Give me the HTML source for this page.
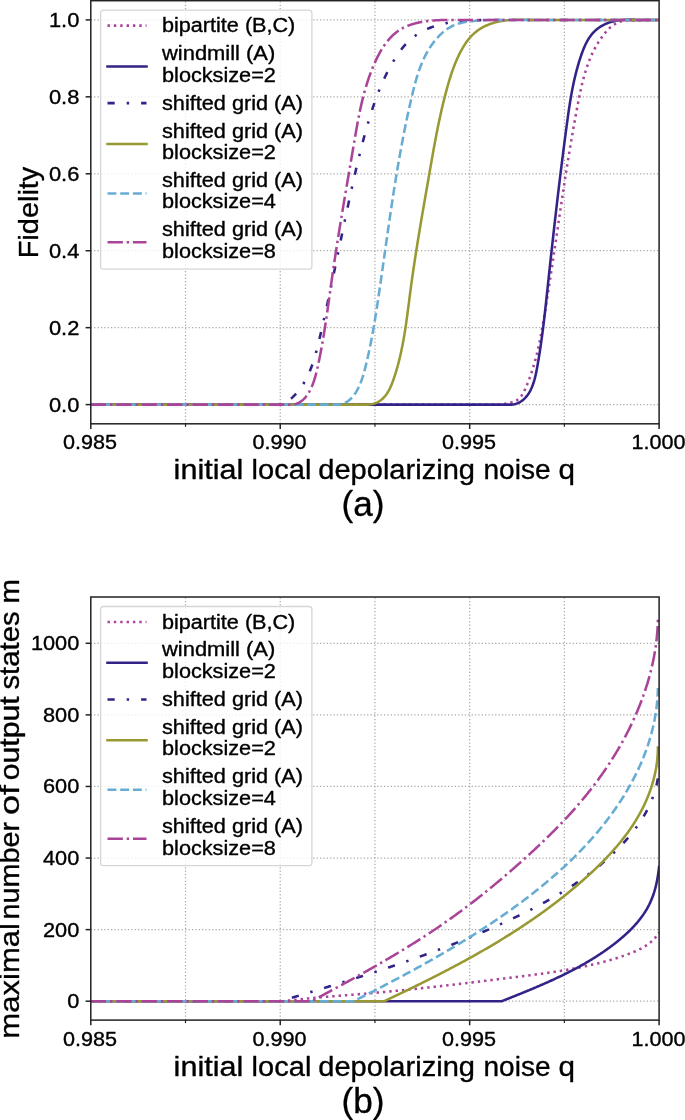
<!DOCTYPE html>
<html><head><meta charset="utf-8"><style>
html,body{margin:0;padding:0;background:#fff;width:685px;height:1120px;overflow:hidden}
svg{display:block;font-family:"Liberation Sans",sans-serif;will-change:transform}
text{stroke:#000;stroke-width:0.35px;stroke-linejoin:round}
</style></head><body>
<svg width="685" height="1120" viewBox="0 0 685 1120" font-family="Liberation Sans, sans-serif" fill="#000" stroke-width="0">
<defs><clipPath id="ca"><rect x="90.80" y="0.70" width="568.30" height="423.10"/></clipPath><clipPath id="cb"><rect x="90.80" y="597.00" width="568.30" height="423.10"/></clipPath></defs>
<rect width="685" height="1120" fill="#fff"/>
<line x1="90.80" y1="404.60" x2="659.10" y2="404.60" stroke="#a8a8a8" stroke-width="1.25" stroke-dasharray="1.25 2.12"/>
<line x1="90.80" y1="327.66" x2="659.10" y2="327.66" stroke="#a8a8a8" stroke-width="1.25" stroke-dasharray="1.25 2.12"/>
<line x1="90.80" y1="250.72" x2="659.10" y2="250.72" stroke="#a8a8a8" stroke-width="1.25" stroke-dasharray="1.25 2.12"/>
<line x1="90.80" y1="173.78" x2="659.10" y2="173.78" stroke="#a8a8a8" stroke-width="1.25" stroke-dasharray="1.25 2.12"/>
<line x1="90.80" y1="96.84" x2="659.10" y2="96.84" stroke="#a8a8a8" stroke-width="1.25" stroke-dasharray="1.25 2.12"/>
<line x1="90.80" y1="19.90" x2="659.10" y2="19.90" stroke="#a8a8a8" stroke-width="1.25" stroke-dasharray="1.25 2.12"/>
<line x1="185.52" y1="423.80" x2="185.52" y2="0.70" stroke="#a8a8a8" stroke-width="1.25" stroke-dasharray="1.25 2.12"/>
<line x1="374.95" y1="423.80" x2="374.95" y2="0.70" stroke="#a8a8a8" stroke-width="1.25" stroke-dasharray="1.25 2.12"/>
<line x1="564.38" y1="423.80" x2="564.38" y2="0.70" stroke="#a8a8a8" stroke-width="1.25" stroke-dasharray="1.25 2.12"/>
<line x1="280.23" y1="423.80" x2="280.23" y2="0.70" stroke="#a8a8a8" stroke-width="1.25" stroke-dasharray="1.25 2.12"/>
<line x1="469.67" y1="423.80" x2="469.67" y2="0.70" stroke="#a8a8a8" stroke-width="1.25" stroke-dasharray="1.25 2.12"/>
<path d="M90.80,404.60 L503.00,404.60 L503.00,404.60 L503.82,404.20 L504.77,403.87 L505.81,403.58 L506.93,403.33 L508.11,403.09 L509.32,402.86 L510.53,402.61 L511.74,402.34 L512.91,402.01 L514.03,401.64 L515.09,401.19 L516.07,400.68 L517.00,400.11 L517.88,399.49 L518.70,398.82 L519.47,398.09 L520.19,397.33 L520.88,396.52 L521.52,395.67 L522.13,394.79 L522.70,393.88 L523.24,392.95 L523.76,391.99 L524.26,391.01 L524.74,390.02 L525.20,389.02 L525.65,388.00 L526.09,386.99 L526.52,385.97 L526.95,384.95 L527.37,383.92 L527.78,382.90 L528.19,381.87 L528.58,380.84 L528.98,379.81 L529.36,378.78 L529.75,377.74 L530.12,376.71 L530.49,375.67 L530.85,374.63 L531.21,373.58 L531.56,372.54 L531.90,371.49 L532.24,370.45 L532.58,369.40 L532.90,368.34 L533.23,367.29 L533.55,366.24 L533.86,365.18 L534.17,364.12 L534.47,363.06 L534.77,362.00 L535.06,360.94 L535.35,359.88 L535.63,358.81 L535.91,357.75 L536.19,356.68 L536.46,355.61 L536.73,354.54 L536.99,353.47 L537.25,352.40 L537.51,351.33 L537.76,350.25 L538.00,349.18 L538.25,348.10 L538.49,347.02 L538.73,345.95 L538.96,344.87 L539.19,343.79 L539.42,342.71 L539.64,341.63 L539.87,340.54 L540.08,339.46 L540.30,338.38 L540.51,337.29 L540.72,336.21 L540.93,335.12 L541.14,334.03 L541.34,332.95 L541.54,331.86 L541.74,330.77 L541.94,329.68 L542.14,328.59 L542.33,327.51 L542.52,326.42 L542.71,325.33 L542.90,324.24 L543.09,323.15 L543.28,322.06 L543.46,320.96 L543.64,319.87 L543.83,318.78 L544.01,317.69 L544.19,316.60 L544.37,315.51 L544.55,314.42 L544.73,313.33 L544.91,312.24 L545.09,311.15 L545.26,310.05 L545.44,308.96 L545.62,307.87 L545.79,306.78 L545.97,305.69 L546.14,304.60 L546.32,303.51 L546.49,302.42 L546.67,301.33 L546.84,300.24 L547.01,299.15 L547.18,298.06 L547.36,296.97 L547.53,295.88 L547.70,294.79 L547.87,293.70 L548.04,292.61 L548.21,291.52 L548.38,290.43 L548.55,289.34 L548.72,288.25 L548.89,287.16 L549.05,286.07 L549.22,284.98 L549.39,283.89 L549.56,282.80 L549.72,281.72 L549.89,280.63 L550.06,279.54 L550.22,278.45 L550.39,277.36 L550.55,276.27 L550.72,275.18 L550.88,274.09 L551.05,273.00 L551.21,271.91 L551.38,270.83 L551.54,269.74 L551.70,268.65 L551.87,267.56 L552.03,266.47 L552.19,265.38 L552.35,264.29 L552.52,263.21 L552.68,262.12 L552.84,261.03 L553.00,259.94 L553.16,258.85 L553.33,257.76 L553.49,256.68 L553.65,255.59 L553.81,254.50 L553.97,253.41 L554.13,252.32 L554.29,251.23 L554.45,250.15 L554.61,249.06 L554.77,247.97 L554.93,246.88 L555.09,245.79 L555.25,244.71 L555.41,243.62 L555.57,242.53 L555.73,241.44 L555.89,240.35 L556.05,239.27 L556.21,238.18 L556.37,237.09 L556.53,236.00 L556.69,234.92 L556.85,233.83 L557.01,232.74 L557.17,231.65 L557.33,230.56 L557.49,229.48 L557.65,228.39 L557.81,227.30 L557.97,226.21 L558.13,225.13 L558.29,224.04 L558.45,222.95 L558.61,221.86 L558.77,220.78 L558.93,219.69 L559.09,218.60 L559.25,217.51 L559.41,216.42 L559.57,215.34 L559.73,214.25 L559.89,213.16 L560.05,212.07 L560.21,210.99 L560.38,209.90 L560.54,208.81 L560.70,207.72 L560.86,206.64 L561.02,205.55 L561.18,204.46 L561.35,203.37 L561.51,202.29 L561.67,201.20 L561.83,200.11 L562.00,199.02 L562.16,197.94 L562.32,196.85 L562.49,195.76 L562.65,194.67 L562.82,193.59 L562.98,192.50 L563.14,191.41 L563.31,190.32 L563.48,189.24 L563.64,188.15 L563.81,187.06 L563.97,185.97 L564.14,184.88 L564.31,183.80 L564.47,182.71 L564.64,181.62 L564.81,180.53 L564.98,179.45 L565.14,178.36 L565.31,177.27 L565.48,176.18 L565.65,175.09 L565.82,174.01 L565.99,172.92 L566.16,171.83 L566.33,170.74 L566.50,169.65 L566.68,168.57 L566.85,167.48 L567.02,166.39 L567.19,165.30 L567.37,164.21 L567.54,163.13 L567.72,162.04 L567.89,160.95 L568.07,159.86 L568.24,158.77 L568.42,157.68 L568.60,156.60 L568.77,155.51 L568.95,154.42 L569.13,153.33 L569.31,152.24 L569.49,151.15 L569.67,150.06 L569.85,148.98 L570.03,147.89 L570.21,146.80 L570.39,145.71 L570.58,144.62 L570.76,143.53 L570.94,142.44 L571.13,141.35 L571.31,140.26 L571.50,139.18 L571.68,138.09 L571.87,137.00 L572.06,135.91 L572.25,134.82 L572.43,133.73 L572.62,132.64 L572.81,131.55 L573.00,130.46 L573.20,129.37 L573.39,128.28 L573.58,127.19 L573.77,126.10 L573.97,125.01 L574.16,123.92 L574.36,122.83 L574.55,121.74 L574.75,120.65 L574.95,119.56 L575.15,118.47 L575.35,117.38 L575.55,116.29 L575.75,115.20 L575.95,114.11 L576.15,113.02 L576.35,111.93 L576.56,110.84 L576.76,109.75 L576.97,108.66 L577.17,107.57 L577.38,106.48 L577.59,105.39 L577.80,104.30 L578.01,103.21 L578.22,102.12 L578.43,101.02 L578.64,99.93 L578.86,98.85 L579.08,97.76 L579.30,96.67 L579.52,95.58 L579.75,94.49 L579.97,93.41 L580.20,92.32 L580.44,91.24 L580.67,90.16 L580.91,89.07 L581.16,87.99 L581.40,86.91 L581.66,85.84 L581.91,84.76 L582.17,83.69 L582.43,82.61 L582.70,81.54 L582.97,80.47 L583.25,79.41 L583.53,78.34 L583.82,77.28 L584.12,76.22 L584.41,75.16 L584.72,74.11 L585.03,73.05 L585.34,72.00 L585.67,70.95 L586.00,69.91 L586.33,68.87 L586.67,67.83 L587.02,66.79 L587.38,65.76 L587.74,64.73 L588.11,63.70 L588.49,62.68 L588.88,61.66 L589.27,60.64 L589.67,59.63 L590.08,58.62 L590.50,57.62 L590.93,56.62 L591.37,55.62 L591.81,54.63 L592.27,53.64 L592.73,52.65 L593.20,51.67 L593.68,50.70 L594.18,49.73 L594.68,48.76 L595.19,47.80 L595.71,46.84 L596.24,45.89 L596.79,44.94 L597.34,44.00 L597.91,43.06 L598.48,42.13 L599.07,41.20 L599.67,40.28 L600.28,39.37 L600.90,38.46 L601.54,37.55 L602.18,36.65 L602.84,35.76 L603.51,34.87 L604.20,34.00 L604.90,33.13 L605.61,32.28 L606.34,31.44 L607.08,30.62 L607.84,29.82 L608.62,29.04 L609.42,28.28 L610.23,27.55 L611.06,26.84 L611.91,26.16 L612.77,25.51 L613.66,24.89 L614.57,24.31 L615.50,23.76 L616.46,23.25 L617.43,22.78 L618.43,22.35 L619.45,21.97 L620.49,21.63 L621.56,21.34 L622.65,21.09 L623.77,20.89 L624.90,20.73 L626.05,20.61 L627.21,20.51 L628.38,20.45 L629.56,20.40 L630.74,20.38 L631.92,20.37 L633.09,20.37 L634.26,20.38 L635.43,20.39 L636.58,20.40 L637.71,20.40 L638.83,20.39 L639.93,20.37 L641.00,20.33 L642.05,20.26 L643.07,20.18 L644.05,20.05 L645.00,19.90 L661.10,19.90" fill="none" stroke="#aa4499" stroke-width="2.55" stroke-linecap="butt" stroke-linejoin="round" stroke-dasharray="2.40 3.96" clip-path="url(#ca)"/>
<path d="M90.80,404.60 L512.00,404.60 L512.00,404.61 L513.19,404.44 L514.34,404.21 L515.45,403.93 L516.52,403.60 L517.54,403.21 L518.53,402.78 L519.48,402.31 L520.40,401.79 L521.28,401.24 L522.12,400.64 L522.93,400.01 L523.71,399.35 L524.46,398.65 L525.17,397.93 L525.86,397.18 L526.52,396.40 L527.16,395.60 L527.76,394.78 L528.34,393.94 L528.90,393.08 L529.44,392.19 L529.95,391.29 L530.44,390.37 L530.90,389.44 L531.35,388.48 L531.78,387.52 L532.18,386.53 L532.57,385.54 L532.95,384.52 L533.30,383.50 L533.64,382.47 L533.97,381.42 L534.28,380.36 L534.58,379.30 L534.86,378.22 L535.14,377.14 L535.40,376.05 L535.65,374.95 L535.90,373.85 L536.13,372.75 L536.36,371.64 L536.58,370.52 L536.79,369.41 L537.00,368.29 L537.21,367.17 L537.41,366.06 L537.60,364.94 L537.80,363.82 L537.99,362.71 L538.18,361.60 L538.37,360.48 L538.56,359.37 L538.74,358.26 L538.92,357.15 L539.10,356.05 L539.28,354.94 L539.45,353.84 L539.63,352.73 L539.80,351.63 L539.97,350.53 L540.14,349.43 L540.30,348.33 L540.47,347.23 L540.63,346.13 L540.79,345.04 L540.95,343.94 L541.10,342.85 L541.26,341.75 L541.41,340.66 L541.56,339.57 L541.71,338.47 L541.86,337.38 L542.01,336.29 L542.15,335.21 L542.30,334.12 L542.44,333.03 L542.58,331.94 L542.72,330.86 L542.86,329.77 L543.00,328.68 L543.13,327.60 L543.27,326.52 L543.40,325.43 L543.54,324.35 L543.67,323.27 L543.80,322.19 L543.93,321.11 L544.06,320.02 L544.18,318.94 L544.31,317.86 L544.43,316.78 L544.56,315.71 L544.68,314.63 L544.81,313.55 L544.93,312.47 L545.05,311.39 L545.17,310.31 L545.29,309.24 L545.41,308.16 L545.53,307.08 L545.65,306.00 L545.77,304.93 L545.88,303.85 L546.00,302.77 L546.12,301.70 L546.23,300.62 L546.35,299.54 L546.46,298.47 L546.58,297.39 L546.69,296.31 L546.81,295.24 L546.92,294.16 L547.04,293.08 L547.15,292.01 L547.27,290.93 L547.38,289.85 L547.49,288.78 L547.61,287.70 L547.72,286.62 L547.84,285.54 L547.95,284.46 L548.06,283.38 L548.18,282.31 L548.29,281.23 L548.41,280.15 L548.52,279.07 L548.64,277.99 L548.75,276.91 L548.87,275.83 L548.99,274.75 L549.10,273.66 L549.22,272.58 L549.33,271.50 L549.45,270.42 L549.57,269.34 L549.68,268.25 L549.80,267.17 L549.92,266.09 L550.03,265.01 L550.15,263.92 L550.27,262.84 L550.39,261.76 L550.50,260.67 L550.62,259.59 L550.74,258.50 L550.86,257.42 L550.98,256.33 L551.09,255.25 L551.21,254.16 L551.33,253.08 L551.45,251.99 L551.57,250.91 L551.69,249.82 L551.81,248.73 L551.93,247.65 L552.05,246.56 L552.17,245.47 L552.29,244.39 L552.41,243.30 L552.53,242.21 L552.65,241.13 L552.77,240.04 L552.89,238.95 L553.02,237.86 L553.14,236.78 L553.26,235.69 L553.38,234.60 L553.50,233.51 L553.63,232.42 L553.75,231.34 L553.87,230.25 L553.99,229.16 L554.12,228.07 L554.24,226.98 L554.36,225.89 L554.49,224.80 L554.61,223.72 L554.74,222.63 L554.86,221.54 L554.98,220.45 L555.11,219.36 L555.23,218.27 L555.36,217.18 L555.48,216.09 L555.61,215.00 L555.73,213.91 L555.86,212.82 L555.99,211.73 L556.11,210.64 L556.24,209.55 L556.37,208.46 L556.49,207.37 L556.62,206.29 L556.75,205.20 L556.88,204.11 L557.00,203.02 L557.13,201.93 L557.26,200.84 L557.39,199.75 L557.52,198.66 L557.64,197.57 L557.77,196.48 L557.90,195.39 L558.03,194.30 L558.16,193.21 L558.29,192.12 L558.42,191.03 L558.55,189.94 L558.68,188.85 L558.81,187.76 L558.94,186.67 L559.07,185.58 L559.21,184.49 L559.34,183.40 L559.47,182.32 L559.60,181.23 L559.73,180.14 L559.87,179.05 L560.00,177.96 L560.13,176.87 L560.26,175.78 L560.40,174.69 L560.53,173.61 L560.67,172.52 L560.80,171.43 L560.93,170.34 L561.07,169.25 L561.20,168.17 L561.34,167.08 L561.47,165.99 L561.61,164.90 L561.74,163.82 L561.88,162.73 L562.02,161.64 L562.15,160.56 L562.29,159.47 L562.43,158.38 L562.56,157.30 L562.70,156.21 L562.84,155.12 L562.98,154.04 L563.11,152.95 L563.25,151.87 L563.39,150.78 L563.53,149.70 L563.67,148.61 L563.81,147.53 L563.95,146.44 L564.09,145.36 L564.23,144.27 L564.37,143.19 L564.51,142.11 L564.65,141.02 L564.79,139.94 L564.93,138.86 L565.07,137.77 L565.22,136.69 L565.36,135.61 L565.50,134.53 L565.64,133.45 L565.79,132.36 L565.93,131.28 L566.07,130.20 L566.22,129.12 L566.36,128.04 L566.50,126.96 L566.65,125.88 L566.79,124.80 L566.94,123.72 L567.08,122.64 L567.23,121.56 L567.38,120.48 L567.52,119.41 L567.67,118.33 L567.82,117.25 L567.97,116.17 L568.12,115.10 L568.27,114.02 L568.43,112.94 L568.58,111.87 L568.74,110.79 L568.90,109.72 L569.06,108.64 L569.22,107.57 L569.38,106.49 L569.55,105.42 L569.72,104.34 L569.88,103.27 L570.06,102.20 L570.23,101.12 L570.41,100.05 L570.59,98.98 L570.77,97.91 L570.95,96.84 L571.14,95.76 L571.33,94.69 L571.52,93.62 L571.72,92.55 L571.91,91.48 L572.12,90.41 L572.32,89.34 L572.53,88.28 L572.74,87.21 L572.96,86.14 L573.18,85.07 L573.40,84.00 L573.63,82.94 L573.86,81.87 L574.09,80.80 L574.33,79.74 L574.58,78.67 L574.82,77.61 L575.08,76.54 L575.33,75.48 L575.59,74.42 L575.86,73.35 L576.13,72.29 L576.41,71.23 L576.69,70.16 L576.97,69.10 L577.26,68.04 L577.56,66.98 L577.86,65.92 L578.17,64.86 L578.48,63.80 L578.80,62.74 L579.12,61.68 L579.45,60.62 L579.78,59.56 L580.13,58.51 L580.47,57.45 L580.83,56.39 L581.19,55.34 L581.55,54.28 L581.93,53.23 L582.31,52.18 L582.70,51.13 L583.10,50.09 L583.51,49.05 L583.93,48.02 L584.37,47.00 L584.81,45.98 L585.27,44.98 L585.74,43.98 L586.23,43.00 L586.74,42.02 L587.26,41.06 L587.79,40.12 L588.35,39.19 L588.92,38.27 L589.51,37.37 L590.12,36.49 L590.75,35.63 L591.40,34.78 L592.08,33.96 L592.78,33.16 L593.50,32.38 L594.24,31.62 L595.00,30.88 L595.79,30.17 L596.60,29.48 L597.43,28.81 L598.28,28.17 L599.14,27.55 L600.03,26.95 L600.93,26.38 L601.85,25.83 L602.79,25.30 L603.74,24.80 L604.71,24.32 L605.70,23.87 L606.69,23.44 L607.70,23.04 L608.73,22.66 L609.76,22.31 L610.81,21.98 L611.87,21.68 L612.94,21.40 L614.01,21.15 L615.10,20.93 L616.19,20.73 L617.29,20.55 L618.40,20.39 L619.51,20.25 L620.62,20.13 L621.74,20.03 L622.85,19.94 L623.97,19.88 L625.09,19.82 L626.20,19.78 L627.31,19.76 L628.42,19.75 L629.53,19.74 L630.63,19.75 L631.72,19.77 L632.80,19.79 L633.88,19.82 L634.94,19.86 L636.00,19.90 L661.10,19.90" fill="none" stroke="#332288" stroke-width="2.55" stroke-linecap="square" stroke-linejoin="round" clip-path="url(#ca)"/>
<path d="M90.80,404.60 L276.00,404.60 L276.00,404.60 L277.29,404.51 L278.55,404.36 L279.79,404.14 L281.01,403.87 L282.19,403.54 L283.35,403.15 L284.48,402.70 L285.58,402.19 L286.64,401.64 L287.68,401.03 L288.69,400.37 L289.67,399.67 L290.62,398.93 L291.55,398.16 L292.45,397.36 L293.33,396.53 L294.19,395.68 L295.02,394.81 L295.84,393.93 L296.64,393.04 L297.41,392.13 L298.17,391.21 L298.91,390.28 L299.63,389.34 L300.34,388.39 L301.03,387.43 L301.70,386.46 L302.35,385.48 L302.99,384.49 L303.61,383.49 L304.22,382.47 L304.81,381.46 L305.38,380.43 L305.95,379.39 L306.49,378.34 L307.03,377.29 L307.55,376.23 L308.06,375.16 L308.55,374.08 L309.03,373.00 L309.51,371.91 L309.96,370.81 L310.41,369.70 L310.85,368.59 L311.28,367.48 L311.69,366.35 L312.10,365.23 L312.50,364.09 L312.89,362.95 L313.27,361.81 L313.64,360.66 L314.00,359.51 L314.36,358.35 L314.71,357.19 L315.05,356.03 L315.38,354.86 L315.71,353.69 L316.03,352.52 L316.35,351.34 L316.66,350.16 L316.97,348.98 L317.27,347.80 L317.57,346.61 L317.87,345.43 L318.16,344.24 L318.45,343.05 L318.74,341.86 L319.02,340.67 L319.30,339.48 L319.58,338.29 L319.86,337.10 L320.14,335.91 L320.42,334.72 L320.70,333.53 L320.97,332.35 L321.25,331.16 L321.52,329.97 L321.80,328.78 L322.07,327.59 L322.34,326.41 L322.61,325.22 L322.88,324.03 L323.15,322.84 L323.42,321.66 L323.69,320.47 L323.95,319.29 L324.22,318.10 L324.48,316.92 L324.75,315.73 L325.01,314.55 L325.28,313.36 L325.54,312.18 L325.80,310.99 L326.06,309.81 L326.32,308.63 L326.58,307.44 L326.84,306.26 L327.10,305.08 L327.36,303.89 L327.61,302.71 L327.87,301.53 L328.13,300.35 L328.38,299.17 L328.64,297.98 L328.89,296.80 L329.15,295.62 L329.40,294.44 L329.65,293.26 L329.91,292.08 L330.16,290.90 L330.41,289.72 L330.66,288.54 L330.91,287.36 L331.16,286.18 L331.41,285.00 L331.66,283.82 L331.91,282.64 L332.16,281.46 L332.41,280.28 L332.66,279.10 L332.90,277.92 L333.15,276.74 L333.40,275.57 L333.65,274.39 L333.89,273.21 L334.14,272.03 L334.38,270.85 L334.63,269.68 L334.88,268.50 L335.12,267.32 L335.37,266.14 L335.61,264.96 L335.86,263.79 L336.10,262.61 L336.35,261.43 L336.59,260.25 L336.83,259.08 L337.08,257.90 L337.32,256.72 L337.57,255.55 L337.81,254.37 L338.05,253.19 L338.30,252.02 L338.54,250.84 L338.79,249.66 L339.03,248.49 L339.27,247.31 L339.52,246.13 L339.76,244.96 L340.00,243.78 L340.25,242.60 L340.49,241.43 L340.73,240.25 L340.98,239.07 L341.22,237.90 L341.47,236.72 L341.71,235.55 L341.96,234.37 L342.20,233.19 L342.45,232.02 L342.69,230.84 L342.94,229.66 L343.18,228.49 L343.43,227.31 L343.67,226.13 L343.92,224.96 L344.16,223.78 L344.41,222.60 L344.66,221.43 L344.90,220.25 L345.15,219.08 L345.40,217.90 L345.65,216.72 L345.90,215.54 L346.14,214.37 L346.39,213.19 L346.64,212.01 L346.89,210.84 L347.14,209.66 L347.39,208.48 L347.64,207.30 L347.89,206.13 L348.15,204.95 L348.40,203.77 L348.65,202.59 L348.91,201.42 L349.16,200.24 L349.41,199.06 L349.67,197.88 L349.92,196.70 L350.18,195.53 L350.44,194.35 L350.69,193.17 L350.95,191.99 L351.21,190.81 L351.47,189.63 L351.73,188.45 L351.99,187.27 L352.25,186.09 L352.51,184.92 L352.77,183.74 L353.03,182.56 L353.30,181.38 L353.56,180.20 L353.83,179.02 L354.09,177.84 L354.36,176.66 L354.63,175.48 L354.90,174.30 L355.17,173.12 L355.44,171.94 L355.71,170.76 L355.99,169.58 L356.26,168.41 L356.54,167.23 L356.81,166.05 L357.09,164.87 L357.37,163.69 L357.65,162.52 L357.93,161.34 L358.21,160.16 L358.50,158.99 L358.78,157.81 L359.07,156.63 L359.36,155.46 L359.65,154.28 L359.94,153.11 L360.23,151.93 L360.53,150.76 L360.82,149.59 L361.12,148.41 L361.42,147.24 L361.72,146.07 L362.02,144.90 L362.33,143.73 L362.63,142.56 L362.94,141.39 L363.25,140.22 L363.56,139.05 L363.87,137.88 L364.19,136.72 L364.50,135.55 L364.82,134.38 L365.14,133.22 L365.46,132.06 L365.79,130.89 L366.11,129.73 L366.44,128.57 L366.77,127.41 L367.10,126.25 L367.44,125.09 L367.78,123.93 L368.11,122.77 L368.46,121.61 L368.80,120.46 L369.15,119.30 L369.49,118.15 L369.85,117.00 L370.20,115.85 L370.56,114.70 L370.92,113.55 L371.28,112.40 L371.65,111.25 L372.02,110.11 L372.39,108.96 L372.77,107.82 L373.15,106.68 L373.54,105.54 L373.93,104.40 L374.32,103.26 L374.71,102.13 L375.12,101.00 L375.52,99.87 L375.93,98.74 L376.34,97.61 L376.76,96.48 L377.19,95.36 L377.61,94.23 L378.05,93.11 L378.48,91.99 L378.93,90.88 L379.37,89.76 L379.83,88.65 L380.28,87.54 L380.75,86.43 L381.22,85.32 L381.69,84.22 L382.17,83.12 L382.66,82.02 L383.15,80.92 L383.65,79.82 L384.16,78.73 L384.67,77.64 L385.18,76.55 L385.71,75.47 L386.24,74.39 L386.77,73.31 L387.32,72.23 L387.87,71.15 L388.43,70.08 L388.99,69.01 L389.56,67.94 L390.14,66.88 L390.73,65.82 L391.32,64.76 L391.92,63.71 L392.53,62.65 L393.15,61.61 L393.77,60.56 L394.40,59.52 L395.05,58.48 L395.70,57.45 L396.36,56.43 L397.03,55.41 L397.71,54.41 L398.40,53.40 L399.10,52.41 L399.81,51.43 L400.54,50.46 L401.27,49.49 L402.02,48.54 L402.78,47.60 L403.55,46.68 L404.33,45.76 L405.13,44.86 L405.94,43.97 L406.77,43.10 L407.60,42.24 L408.46,41.40 L409.33,40.58 L410.21,39.77 L411.11,38.98 L412.02,38.21 L412.95,37.46 L413.90,36.73 L414.86,36.01 L415.84,35.32 L416.83,34.64 L417.83,33.99 L418.85,33.35 L419.88,32.73 L420.93,32.13 L421.99,31.55 L423.05,30.98 L424.13,30.43 L425.22,29.91 L426.32,29.39 L427.43,28.90 L428.55,28.42 L429.67,27.96 L430.81,27.51 L431.95,27.09 L433.09,26.67 L434.25,26.28 L435.40,25.90 L436.57,25.54 L437.73,25.19 L438.91,24.85 L440.08,24.54 L441.26,24.23 L442.44,23.95 L443.62,23.67 L444.80,23.41 L445.99,23.17 L447.17,22.94 L448.36,22.72 L449.55,22.51 L450.73,22.32 L451.93,22.13 L453.12,21.96 L454.31,21.80 L455.50,21.65 L456.70,21.51 L457.89,21.38 L459.09,21.26 L460.29,21.15 L461.49,21.04 L462.69,20.94 L463.89,20.85 L465.09,20.77 L466.29,20.69 L467.49,20.62 L468.70,20.56 L469.90,20.50 L471.10,20.44 L472.31,20.39 L473.51,20.34 L474.72,20.30 L475.93,20.26 L477.13,20.22 L478.34,20.18 L479.55,20.14 L480.75,20.11 L481.96,20.08 L483.17,20.04 L484.38,20.01 L485.58,19.97 L486.79,19.94 L488.00,19.90 L661.10,19.90" fill="none" stroke="#332288" stroke-width="2.55" stroke-linecap="butt" stroke-linejoin="round" stroke-dasharray="7.20 12.00 2.40 12.00" clip-path="url(#ca)"/>
<path d="M90.80,404.60 L368.00,404.60 L368.00,404.61 L369.31,404.50 L370.57,404.35 L371.78,404.14 L372.96,403.87 L374.09,403.56 L375.18,403.20 L376.23,402.79 L377.24,402.33 L378.21,401.83 L379.15,401.29 L380.05,400.71 L380.91,400.09 L381.74,399.43 L382.54,398.73 L383.31,398.00 L384.05,397.24 L384.76,396.44 L385.44,395.61 L386.10,394.76 L386.73,393.87 L387.33,392.97 L387.91,392.03 L388.47,391.08 L389.01,390.10 L389.53,389.11 L390.03,388.10 L390.51,387.07 L390.97,386.03 L391.42,384.97 L391.86,383.90 L392.28,382.82 L392.69,381.74 L393.09,380.64 L393.48,379.54 L393.86,378.44 L394.23,377.34 L394.59,376.23 L394.95,375.12 L395.31,374.02 L395.65,372.91 L395.99,371.80 L396.33,370.69 L396.65,369.58 L396.97,368.47 L397.29,367.35 L397.60,366.24 L397.91,365.13 L398.20,364.01 L398.50,362.90 L398.79,361.78 L399.07,360.67 L399.35,359.55 L399.62,358.43 L399.89,357.32 L400.15,356.20 L400.41,355.08 L400.66,353.96 L400.91,352.84 L401.16,351.72 L401.40,350.60 L401.63,349.48 L401.86,348.35 L402.09,347.23 L402.31,346.11 L402.53,344.98 L402.75,343.86 L402.96,342.73 L403.17,341.61 L403.38,340.48 L403.58,339.36 L403.78,338.23 L403.97,337.10 L404.17,335.98 L404.35,334.85 L404.54,333.72 L404.72,332.59 L404.91,331.47 L405.08,330.34 L405.26,329.21 L405.43,328.08 L405.60,326.95 L405.77,325.82 L405.94,324.69 L406.10,323.56 L406.27,322.43 L406.43,321.30 L406.59,320.16 L406.75,319.03 L406.90,317.90 L407.06,316.77 L407.21,315.64 L407.36,314.51 L407.51,313.37 L407.66,312.24 L407.81,311.11 L407.96,309.98 L408.11,308.84 L408.26,307.71 L408.40,306.58 L408.55,305.44 L408.69,304.31 L408.84,303.18 L408.98,302.04 L409.13,300.91 L409.27,299.78 L409.42,298.65 L409.57,297.51 L409.71,296.38 L409.86,295.25 L410.00,294.11 L410.15,292.98 L410.30,291.85 L410.45,290.71 L410.60,289.58 L410.75,288.45 L410.90,287.32 L411.06,286.18 L411.21,285.05 L411.36,283.92 L411.52,282.79 L411.68,281.66 L411.83,280.52 L411.99,279.39 L412.15,278.26 L412.31,277.13 L412.47,276.00 L412.64,274.87 L412.80,273.73 L412.96,272.60 L413.13,271.47 L413.29,270.34 L413.46,269.21 L413.62,268.08 L413.79,266.95 L413.96,265.82 L414.13,264.69 L414.30,263.56 L414.47,262.43 L414.64,261.30 L414.81,260.17 L414.99,259.04 L415.16,257.91 L415.33,256.78 L415.51,255.65 L415.68,254.52 L415.86,253.39 L416.04,252.26 L416.21,251.13 L416.39,250.00 L416.57,248.87 L416.75,247.74 L416.93,246.61 L417.11,245.48 L417.29,244.35 L417.47,243.22 L417.66,242.09 L417.84,240.97 L418.02,239.84 L418.21,238.71 L418.39,237.58 L418.58,236.45 L418.76,235.32 L418.95,234.19 L419.13,233.07 L419.32,231.94 L419.51,230.81 L419.69,229.68 L419.88,228.55 L420.07,227.43 L420.26,226.30 L420.45,225.17 L420.64,224.04 L420.83,222.91 L421.02,221.79 L421.21,220.66 L421.40,219.53 L421.59,218.41 L421.78,217.28 L421.98,216.15 L422.17,215.02 L422.36,213.90 L422.55,212.77 L422.75,211.64 L422.94,210.52 L423.13,209.39 L423.33,208.26 L423.52,207.14 L423.72,206.01 L423.91,204.88 L424.11,203.76 L424.30,202.63 L424.50,201.50 L424.69,200.38 L424.89,199.25 L425.08,198.12 L425.28,197.00 L425.47,195.87 L425.67,194.75 L425.87,193.62 L426.06,192.49 L426.26,191.37 L426.45,190.24 L426.65,189.12 L426.85,187.99 L427.04,186.87 L427.24,185.74 L427.44,184.61 L427.63,183.49 L427.83,182.36 L428.03,181.24 L428.22,180.11 L428.42,178.99 L428.61,177.86 L428.81,176.74 L429.01,175.61 L429.20,174.49 L429.40,173.36 L429.60,172.24 L429.79,171.11 L429.99,169.99 L430.18,168.86 L430.38,167.74 L430.58,166.61 L430.77,165.49 L430.97,164.36 L431.17,163.24 L431.36,162.11 L431.56,160.99 L431.76,159.87 L431.96,158.74 L432.16,157.62 L432.36,156.49 L432.55,155.37 L432.76,154.25 L432.96,153.12 L433.16,152.00 L433.36,150.88 L433.56,149.75 L433.77,148.63 L433.97,147.51 L434.18,146.39 L434.38,145.26 L434.59,144.14 L434.80,143.02 L435.01,141.90 L435.22,140.78 L435.43,139.66 L435.64,138.54 L435.85,137.42 L436.07,136.30 L436.28,135.18 L436.50,134.06 L436.72,132.94 L436.94,131.82 L437.16,130.70 L437.38,129.58 L437.61,128.46 L437.83,127.34 L438.06,126.22 L438.29,125.11 L438.52,123.99 L438.75,122.87 L438.98,121.76 L439.22,120.64 L439.46,119.52 L439.69,118.41 L439.94,117.29 L440.18,116.18 L440.42,115.06 L440.67,113.95 L440.92,112.83 L441.17,111.72 L441.42,110.61 L441.68,109.50 L441.93,108.38 L442.19,107.27 L442.45,106.16 L442.72,105.05 L442.99,103.94 L443.25,102.83 L443.52,101.72 L443.80,100.61 L444.07,99.50 L444.35,98.39 L444.63,97.28 L444.92,96.18 L445.20,95.07 L445.49,93.96 L445.79,92.86 L446.08,91.75 L446.38,90.64 L446.68,89.54 L446.98,88.44 L447.29,87.33 L447.60,86.23 L447.91,85.13 L448.22,84.02 L448.54,82.92 L448.87,81.82 L449.20,80.73 L449.53,79.63 L449.87,78.53 L450.21,77.44 L450.56,76.34 L450.91,75.25 L451.27,74.16 L451.63,73.07 L452.00,71.99 L452.38,70.90 L452.77,69.82 L453.16,68.74 L453.55,67.66 L453.96,66.58 L454.37,65.51 L454.79,64.44 L455.22,63.37 L455.65,62.30 L456.10,61.24 L456.55,60.18 L457.01,59.12 L457.48,58.06 L457.96,57.01 L458.45,55.96 L458.95,54.92 L459.46,53.88 L459.98,52.85 L460.51,51.82 L461.05,50.79 L461.61,49.78 L462.17,48.77 L462.75,47.78 L463.34,46.79 L463.94,45.81 L464.56,44.84 L465.19,43.89 L465.83,42.95 L466.48,42.02 L467.15,41.10 L467.84,40.20 L468.54,39.32 L469.25,38.45 L469.98,37.59 L470.73,36.76 L471.49,35.94 L472.27,35.14 L473.07,34.37 L473.88,33.61 L474.71,32.87 L475.56,32.16 L476.43,31.46 L477.31,30.79 L478.21,30.15 L479.13,29.52 L480.06,28.92 L481.01,28.33 L481.97,27.77 L482.95,27.23 L483.95,26.71 L484.95,26.22 L485.97,25.74 L487.00,25.28 L488.04,24.84 L489.10,24.43 L490.16,24.03 L491.24,23.65 L492.32,23.29 L493.41,22.95 L494.52,22.63 L495.63,22.33 L496.74,22.04 L497.87,21.78 L499.00,21.53 L500.14,21.30 L501.28,21.09 L502.43,20.89 L503.58,20.72 L504.74,20.56 L505.90,20.41 L507.06,20.28 L508.22,20.17 L509.39,20.07 L510.56,19.99 L511.73,19.92 L512.89,19.85 L514.06,19.81 L515.23,19.77 L516.39,19.74 L517.55,19.72 L518.71,19.71 L519.86,19.70 L521.01,19.71 L522.16,19.72 L523.30,19.73 L524.44,19.75 L525.56,19.78 L526.68,19.81 L527.80,19.84 L528.90,19.87 L530.00,19.90 L661.10,19.90" fill="none" stroke="#999933" stroke-width="2.55" stroke-linecap="square" stroke-linejoin="round" clip-path="url(#ca)"/>
<path d="M90.80,404.60 L337.00,404.60 L337.00,404.60 L338.24,404.55 L339.44,404.43 L340.60,404.25 L341.72,403.99 L342.81,403.68 L343.86,403.31 L344.87,402.88 L345.85,402.40 L346.79,401.86 L347.70,401.28 L348.57,400.66 L349.42,399.99 L350.24,399.28 L351.02,398.54 L351.78,397.76 L352.51,396.95 L353.21,396.12 L353.89,395.26 L354.54,394.37 L355.16,393.47 L355.77,392.55 L356.35,391.62 L356.90,390.67 L357.44,389.71 L357.96,388.73 L358.46,387.75 L358.94,386.75 L359.40,385.74 L359.84,384.73 L360.27,383.70 L360.68,382.66 L361.08,381.62 L361.47,380.56 L361.84,379.50 L362.20,378.44 L362.55,377.36 L362.88,376.28 L363.21,375.20 L363.53,374.11 L363.84,373.02 L364.14,371.92 L364.44,370.83 L364.73,369.73 L365.01,368.62 L365.29,367.52 L365.57,366.42 L365.85,365.32 L366.12,364.21 L366.38,363.11 L366.65,362.00 L366.91,360.90 L367.17,359.80 L367.43,358.69 L367.68,357.59 L367.93,356.48 L368.18,355.38 L368.42,354.27 L368.67,353.17 L368.91,352.06 L369.14,350.96 L369.38,349.85 L369.61,348.75 L369.84,347.64 L370.07,346.53 L370.29,345.43 L370.51,344.32 L370.73,343.22 L370.95,342.11 L371.17,341.00 L371.38,339.90 L371.59,338.79 L371.80,337.68 L372.01,336.58 L372.22,335.47 L372.42,334.36 L372.62,333.25 L372.82,332.15 L373.02,331.04 L373.22,329.93 L373.41,328.82 L373.61,327.72 L373.80,326.61 L373.99,325.50 L374.18,324.39 L374.36,323.28 L374.55,322.18 L374.73,321.07 L374.91,319.96 L375.10,318.85 L375.28,317.74 L375.45,316.63 L375.63,315.53 L375.81,314.42 L375.98,313.31 L376.16,312.20 L376.33,311.09 L376.50,309.98 L376.67,308.87 L376.85,307.76 L377.02,306.66 L377.18,305.55 L377.35,304.44 L377.52,303.33 L377.69,302.22 L377.85,301.11 L378.02,300.00 L378.18,298.89 L378.35,297.78 L378.51,296.67 L378.68,295.56 L378.84,294.45 L379.00,293.35 L379.16,292.24 L379.33,291.13 L379.49,290.02 L379.65,288.91 L379.81,287.80 L379.97,286.69 L380.13,285.58 L380.29,284.47 L380.45,283.36 L380.61,282.25 L380.77,281.14 L380.93,280.03 L381.09,278.92 L381.25,277.81 L381.41,276.70 L381.57,275.59 L381.73,274.48 L381.88,273.38 L382.04,272.27 L382.20,271.16 L382.36,270.05 L382.52,268.94 L382.67,267.83 L382.83,266.72 L382.99,265.61 L383.15,264.50 L383.30,263.39 L383.46,262.28 L383.62,261.17 L383.77,260.06 L383.93,258.95 L384.09,257.84 L384.24,256.73 L384.40,255.62 L384.56,254.51 L384.71,253.40 L384.87,252.30 L385.03,251.19 L385.18,250.08 L385.34,248.97 L385.50,247.86 L385.65,246.75 L385.81,245.64 L385.97,244.53 L386.13,243.42 L386.28,242.31 L386.44,241.20 L386.60,240.09 L386.76,238.98 L386.91,237.88 L387.07,236.77 L387.23,235.66 L387.39,234.55 L387.55,233.44 L387.71,232.33 L387.86,231.22 L388.02,230.11 L388.18,229.00 L388.34,227.89 L388.50,226.79 L388.66,225.68 L388.82,224.57 L388.98,223.46 L389.14,222.35 L389.30,221.24 L389.47,220.13 L389.63,219.02 L389.79,217.92 L389.95,216.81 L390.12,215.70 L390.28,214.59 L390.44,213.48 L390.61,212.37 L390.77,211.27 L390.93,210.16 L391.10,209.05 L391.26,207.94 L391.43,206.83 L391.60,205.72 L391.76,204.62 L391.93,203.51 L392.10,202.40 L392.27,201.29 L392.43,200.19 L392.60,199.08 L392.77,197.97 L392.94,196.86 L393.11,195.75 L393.29,194.65 L393.46,193.54 L393.63,192.43 L393.80,191.32 L393.97,190.22 L394.15,189.11 L394.32,188.00 L394.50,186.90 L394.67,185.79 L394.85,184.68 L395.03,183.57 L395.20,182.47 L395.38,181.36 L395.56,180.25 L395.74,179.15 L395.92,178.04 L396.10,176.93 L396.28,175.83 L396.47,174.72 L396.65,173.62 L396.83,172.51 L397.02,171.40 L397.20,170.30 L397.39,169.19 L397.58,168.08 L397.76,166.98 L397.95,165.87 L398.14,164.77 L398.33,163.66 L398.52,162.56 L398.71,161.45 L398.91,160.35 L399.10,159.24 L399.29,158.13 L399.49,157.03 L399.68,155.92 L399.88,154.82 L400.08,153.71 L400.28,152.61 L400.48,151.51 L400.68,150.40 L400.88,149.30 L401.08,148.19 L401.28,147.09 L401.49,145.98 L401.69,144.88 L401.90,143.77 L402.11,142.67 L402.32,141.57 L402.52,140.46 L402.73,139.36 L402.95,138.26 L403.16,137.15 L403.37,136.05 L403.59,134.95 L403.80,133.84 L404.02,132.74 L404.24,131.64 L404.46,130.53 L404.68,129.43 L404.90,128.33 L405.12,127.23 L405.34,126.12 L405.57,125.02 L405.79,123.92 L406.02,122.82 L406.25,121.71 L406.48,120.61 L406.71,119.51 L406.94,118.41 L407.17,117.31 L407.41,116.21 L407.64,115.10 L407.88,114.00 L408.12,112.90 L408.35,111.80 L408.59,110.70 L408.84,109.60 L409.08,108.50 L409.32,107.40 L409.57,106.30 L409.82,105.20 L410.07,104.10 L410.31,103.00 L410.57,101.90 L410.82,100.80 L411.07,99.70 L411.33,98.60 L411.58,97.50 L411.84,96.40 L412.10,95.30 L412.36,94.20 L412.63,93.10 L412.89,92.01 L413.16,90.91 L413.43,89.81 L413.71,88.72 L413.99,87.63 L414.27,86.53 L414.55,85.44 L414.84,84.35 L415.13,83.27 L415.43,82.18 L415.74,81.10 L416.04,80.02 L416.36,78.94 L416.68,77.86 L417.00,76.79 L417.33,75.72 L417.67,74.65 L418.01,73.58 L418.36,72.52 L418.72,71.46 L419.08,70.41 L419.46,69.35 L419.84,68.31 L420.22,67.26 L420.62,66.22 L421.02,65.18 L421.44,64.15 L421.86,63.12 L422.29,62.10 L422.73,61.08 L423.18,60.07 L423.64,59.06 L424.11,58.06 L424.60,57.06 L425.09,56.06 L425.59,55.08 L426.11,54.09 L426.63,53.12 L427.17,52.15 L427.72,51.18 L428.28,50.22 L428.85,49.27 L429.44,48.33 L430.04,47.39 L430.65,46.46 L431.28,45.53 L431.92,44.61 L432.57,43.70 L433.24,42.80 L433.92,41.91 L434.62,41.02 L435.33,40.15 L436.05,39.28 L436.79,38.43 L437.54,37.59 L438.30,36.77 L439.08,35.96 L439.87,35.16 L440.68,34.38 L441.50,33.61 L442.33,32.87 L443.18,32.14 L444.04,31.43 L444.92,30.74 L445.80,30.06 L446.71,29.41 L447.62,28.79 L448.55,28.18 L449.50,27.60 L450.46,27.04 L451.43,26.50 L452.41,25.99 L453.41,25.51 L454.43,25.06 L455.45,24.63 L456.50,24.23 L457.55,23.86 L458.62,23.52 L459.70,23.20 L460.79,22.91 L461.89,22.65 L463.00,22.40 L464.12,22.18 L465.25,21.98 L466.38,21.80 L467.52,21.63 L468.66,21.49 L469.81,21.35 L470.96,21.23 L472.11,21.12 L473.26,21.02 L474.41,20.93 L475.56,20.85 L476.71,20.78 L477.86,20.71 L479.00,20.64 L480.13,20.58 L481.27,20.52 L482.39,20.46 L483.51,20.39 L484.62,20.33 L485.72,20.25 L486.80,20.18 L487.88,20.09 L488.95,20.00 L490.00,19.90 L661.10,19.90" fill="none" stroke="#67acd3" stroke-width="2.55" stroke-linecap="butt" stroke-linejoin="round" stroke-dasharray="8.88 3.84" clip-path="url(#ca)"/>
<path d="M90.80,404.60 L287.00,404.60 L287.00,404.60 L288.32,404.75 L289.61,404.81 L290.86,404.80 L292.07,404.72 L293.25,404.56 L294.40,404.34 L295.50,404.05 L296.58,403.69 L297.62,403.28 L298.62,402.81 L299.60,402.28 L300.53,401.70 L301.44,401.07 L302.31,400.40 L303.15,399.68 L303.96,398.92 L304.73,398.13 L305.47,397.29 L306.18,396.43 L306.86,395.53 L307.52,394.61 L308.14,393.66 L308.74,392.69 L309.31,391.70 L309.86,390.69 L310.38,389.66 L310.89,388.62 L311.37,387.57 L311.83,386.51 L312.28,385.45 L312.70,384.37 L313.12,383.29 L313.51,382.19 L313.89,381.10 L314.25,379.99 L314.60,378.88 L314.94,377.77 L315.27,376.64 L315.58,375.52 L315.88,374.39 L316.18,373.25 L316.46,372.12 L316.74,370.98 L317.01,369.84 L317.28,368.69 L317.54,367.55 L317.79,366.40 L318.04,365.26 L318.29,364.11 L318.53,362.96 L318.77,361.82 L319.01,360.67 L319.25,359.52 L319.48,358.38 L319.71,357.23 L319.94,356.09 L320.17,354.94 L320.39,353.80 L320.61,352.65 L320.83,351.51 L321.05,350.36 L321.26,349.21 L321.47,348.07 L321.68,346.92 L321.89,345.78 L322.10,344.63 L322.30,343.49 L322.50,342.34 L322.70,341.20 L322.90,340.05 L323.09,338.91 L323.28,337.76 L323.48,336.62 L323.67,335.48 L323.85,334.33 L324.04,333.19 L324.23,332.04 L324.41,330.90 L324.59,329.75 L324.77,328.61 L324.95,327.46 L325.13,326.32 L325.30,325.18 L325.48,324.03 L325.65,322.89 L325.83,321.74 L326.00,320.60 L326.17,319.45 L326.34,318.31 L326.51,317.17 L326.67,316.02 L326.84,314.88 L327.01,313.73 L327.17,312.59 L327.33,311.44 L327.50,310.30 L327.66,309.16 L327.82,308.01 L327.98,306.87 L328.15,305.72 L328.31,304.58 L328.47,303.43 L328.63,302.29 L328.78,301.15 L328.94,300.00 L329.10,298.86 L329.26,297.71 L329.42,296.57 L329.58,295.42 L329.74,294.28 L329.89,293.13 L330.05,291.99 L330.21,290.85 L330.37,289.70 L330.53,288.56 L330.69,287.41 L330.85,286.27 L331.00,285.12 L331.16,283.98 L331.32,282.83 L331.48,281.69 L331.65,280.54 L331.81,279.40 L331.97,278.25 L332.13,277.11 L332.30,275.96 L332.46,274.82 L332.62,273.67 L332.79,272.53 L332.96,271.38 L333.12,270.23 L333.29,269.09 L333.46,267.94 L333.63,266.80 L333.80,265.65 L333.97,264.51 L334.14,263.36 L334.31,262.21 L334.48,261.07 L334.65,259.92 L334.83,258.77 L335.00,257.63 L335.17,256.48 L335.35,255.34 L335.52,254.19 L335.70,253.04 L335.88,251.90 L336.05,250.75 L336.23,249.60 L336.41,248.46 L336.59,247.31 L336.77,246.17 L336.95,245.02 L337.13,243.87 L337.31,242.73 L337.49,241.58 L337.67,240.43 L337.85,239.29 L338.03,238.14 L338.22,236.99 L338.40,235.85 L338.58,234.70 L338.77,233.55 L338.95,232.41 L339.14,231.26 L339.32,230.11 L339.51,228.97 L339.70,227.82 L339.88,226.67 L340.07,225.53 L340.26,224.38 L340.44,223.23 L340.63,222.09 L340.82,220.94 L341.01,219.79 L341.20,218.65 L341.39,217.50 L341.58,216.36 L341.77,215.21 L341.96,214.06 L342.15,212.92 L342.34,211.77 L342.53,210.62 L342.72,209.48 L342.91,208.33 L343.11,207.18 L343.30,206.04 L343.49,204.89 L343.68,203.75 L343.88,202.60 L344.07,201.45 L344.26,200.31 L344.46,199.16 L344.65,198.02 L344.84,196.87 L345.04,195.72 L345.23,194.58 L345.43,193.43 L345.62,192.29 L345.82,191.14 L346.01,190.00 L346.21,188.85 L346.40,187.71 L346.60,186.56 L346.79,185.41 L346.99,184.27 L347.18,183.12 L347.38,181.98 L347.58,180.83 L347.77,179.69 L347.97,178.54 L348.16,177.40 L348.36,176.26 L348.56,175.11 L348.75,173.97 L348.95,172.82 L349.14,171.68 L349.34,170.53 L349.54,169.39 L349.73,168.25 L349.93,167.10 L350.13,165.96 L350.32,164.81 L350.52,163.67 L350.71,162.53 L350.91,161.38 L351.11,160.24 L351.30,159.10 L351.50,157.95 L351.69,156.81 L351.89,155.67 L352.09,154.53 L352.28,153.38 L352.48,152.24 L352.67,151.10 L352.87,149.96 L353.06,148.81 L353.26,147.67 L353.45,146.53 L353.65,145.39 L353.84,144.25 L354.04,143.10 L354.23,141.96 L354.43,140.82 L354.62,139.68 L354.82,138.54 L355.01,137.40 L355.21,136.26 L355.40,135.12 L355.60,133.98 L355.80,132.84 L356.00,131.70 L356.19,130.56 L356.40,129.42 L356.60,128.28 L356.80,127.15 L357.01,126.01 L357.21,124.87 L357.42,123.74 L357.63,122.60 L357.84,121.46 L358.06,120.33 L358.27,119.19 L358.49,118.06 L358.71,116.93 L358.94,115.79 L359.16,114.66 L359.39,113.53 L359.62,112.40 L359.86,111.27 L360.10,110.14 L360.34,109.01 L360.58,107.88 L360.83,106.76 L361.08,105.63 L361.34,104.50 L361.59,103.38 L361.86,102.25 L362.12,101.13 L362.40,100.01 L362.67,98.89 L362.95,97.77 L363.23,96.65 L363.52,95.53 L363.82,94.41 L364.12,93.29 L364.42,92.18 L364.73,91.06 L365.04,89.95 L365.36,88.84 L365.68,87.73 L366.01,86.62 L366.35,85.51 L366.69,84.40 L367.04,83.29 L367.39,82.19 L367.75,81.08 L368.12,79.98 L368.49,78.88 L368.87,77.77 L369.25,76.68 L369.64,75.58 L370.04,74.48 L370.45,73.38 L370.86,72.29 L371.28,71.20 L371.71,70.11 L372.14,69.02 L372.58,67.93 L373.03,66.84 L373.49,65.75 L373.95,64.67 L374.43,63.59 L374.91,62.51 L375.40,61.43 L375.90,60.35 L376.40,59.28 L376.92,58.22 L377.44,57.15 L377.98,56.10 L378.52,55.05 L379.08,54.00 L379.64,52.97 L380.22,51.94 L380.81,50.92 L381.41,49.91 L382.02,48.91 L382.64,47.91 L383.27,46.93 L383.91,45.97 L384.57,45.01 L385.24,44.06 L385.92,43.13 L386.62,42.22 L387.33,41.31 L388.05,40.43 L388.79,39.55 L389.54,38.70 L390.30,37.86 L391.08,37.04 L391.87,36.23 L392.68,35.45 L393.51,34.68 L394.34,33.94 L395.20,33.21 L396.07,32.51 L396.96,31.82 L397.86,31.16 L398.78,30.52 L399.72,29.91 L400.67,29.32 L401.64,28.75 L402.63,28.20 L403.63,27.68 L404.65,27.18 L405.68,26.71 L406.73,26.25 L407.79,25.81 L408.86,25.40 L409.94,25.00 L411.04,24.63 L412.14,24.27 L413.26,23.93 L414.38,23.61 L415.52,23.31 L416.66,23.02 L417.81,22.75 L418.97,22.49 L420.13,22.26 L421.30,22.03 L422.47,21.82 L423.65,21.63 L424.83,21.45 L426.02,21.28 L427.21,21.12 L428.40,20.98 L429.59,20.85 L430.79,20.72 L431.98,20.61 L433.18,20.51 L434.37,20.42 L435.56,20.34 L436.75,20.27 L437.94,20.21 L439.12,20.15 L440.30,20.10 L441.47,20.06 L442.64,20.02 L443.81,19.99 L444.96,19.97 L446.12,19.95 L447.26,19.93 L448.39,19.92 L449.52,19.91 L450.64,19.90 L451.74,19.90 L452.84,19.90 L453.92,19.90 L455.00,19.90 L661.10,19.90" fill="none" stroke="#aa4499" stroke-width="2.55" stroke-linecap="butt" stroke-linejoin="round" stroke-dasharray="15.36 3.84 2.40 3.84" clip-path="url(#ca)"/>
<rect x="100.60" y="10.10" width="211.30" height="259.10" rx="3.2" fill="#fff" fill-opacity="0.8" stroke="#d6d6d6" stroke-width="1.3"/>
<line x1="107.5" y1="25.60" x2="146.5" y2="25.60" stroke="#aa4499" stroke-width="2.55" stroke-linecap="butt" stroke-dasharray="2.40 3.96"/>
<line x1="107.5" y1="66.40" x2="146.5" y2="66.40" stroke="#332288" stroke-width="2.55" stroke-linecap="square"/>
<line x1="107.5" y1="103.10" x2="146.5" y2="103.10" stroke="#332288" stroke-width="2.55" stroke-linecap="butt" stroke-dasharray="7.20 12.00 2.40 12.00"/>
<line x1="107.5" y1="143.90" x2="146.5" y2="143.90" stroke="#999933" stroke-width="2.55" stroke-linecap="square"/>
<line x1="107.5" y1="193.40" x2="146.5" y2="193.40" stroke="#67acd3" stroke-width="2.55" stroke-linecap="butt" stroke-dasharray="8.88 3.84"/>
<line x1="107.5" y1="242.30" x2="146.5" y2="242.30" stroke="#aa4499" stroke-width="2.55" stroke-linecap="butt" stroke-dasharray="15.36 3.84 2.40 3.84"/>
<text x="162.0" y="32.30" font-size="19.50" textLength="133.30" lengthAdjust="spacingAndGlyphs">bipartite (B,C)</text>
<text x="162.0" y="59.80" font-size="19.50" textLength="113.30" lengthAdjust="spacingAndGlyphs">windmill (A)</text>
<text x="162.0" y="81.90" font-size="19.50" textLength="113.90" lengthAdjust="spacingAndGlyphs">blocksize=2</text>
<text x="162.0" y="109.60" font-size="19.50" textLength="141.00" lengthAdjust="spacingAndGlyphs">shifted grid (A)</text>
<text x="162.0" y="137.70" font-size="19.50" textLength="141.00" lengthAdjust="spacingAndGlyphs">shifted grid (A)</text>
<text x="162.0" y="159.00" font-size="19.50" textLength="113.90" lengthAdjust="spacingAndGlyphs">blocksize=2</text>
<text x="162.0" y="186.80" font-size="19.50" textLength="141.00" lengthAdjust="spacingAndGlyphs">shifted grid (A)</text>
<text x="162.0" y="208.30" font-size="19.50" textLength="113.90" lengthAdjust="spacingAndGlyphs">blocksize=4</text>
<text x="162.0" y="236.40" font-size="19.50" textLength="141.00" lengthAdjust="spacingAndGlyphs">shifted grid (A)</text>
<text x="162.0" y="258.10" font-size="19.50" textLength="113.90" lengthAdjust="spacingAndGlyphs">blocksize=8</text>
<rect x="90.80" y="0.70" width="568.30" height="423.10" fill="none" stroke="#222" stroke-width="1.5"/>
<line x1="85.60" y1="404.60" x2="90.80" y2="404.60" stroke="#222" stroke-width="1.5"/>
<text x="79.30" y="411.50" font-size="19.50" text-anchor="end" textLength="30.40" lengthAdjust="spacingAndGlyphs">0.0</text>
<line x1="85.60" y1="327.66" x2="90.80" y2="327.66" stroke="#222" stroke-width="1.5"/>
<text x="79.30" y="334.56" font-size="19.50" text-anchor="end" textLength="30.40" lengthAdjust="spacingAndGlyphs">0.2</text>
<line x1="85.60" y1="250.72" x2="90.80" y2="250.72" stroke="#222" stroke-width="1.5"/>
<text x="79.30" y="257.62" font-size="19.50" text-anchor="end" textLength="30.40" lengthAdjust="spacingAndGlyphs">0.4</text>
<line x1="85.60" y1="173.78" x2="90.80" y2="173.78" stroke="#222" stroke-width="1.5"/>
<text x="79.30" y="180.68" font-size="19.50" text-anchor="end" textLength="30.40" lengthAdjust="spacingAndGlyphs">0.6</text>
<line x1="85.60" y1="96.84" x2="90.80" y2="96.84" stroke="#222" stroke-width="1.5"/>
<text x="79.30" y="103.74" font-size="19.50" text-anchor="end" textLength="30.40" lengthAdjust="spacingAndGlyphs">0.8</text>
<line x1="85.60" y1="19.90" x2="90.80" y2="19.90" stroke="#222" stroke-width="1.5"/>
<text x="79.30" y="26.80" font-size="19.50" text-anchor="end" textLength="30.40" lengthAdjust="spacingAndGlyphs">1.0</text>
<line x1="90.80" y1="423.80" x2="90.80" y2="429.00" stroke="#222" stroke-width="1.5"/>
<line x1="280.23" y1="423.80" x2="280.23" y2="429.00" stroke="#222" stroke-width="1.5"/>
<line x1="469.67" y1="423.80" x2="469.67" y2="429.00" stroke="#222" stroke-width="1.5"/>
<line x1="659.10" y1="423.80" x2="659.10" y2="429.00" stroke="#222" stroke-width="1.5"/>
<line x1="185.52" y1="423.80" x2="185.52" y2="426.80" stroke="#222" stroke-width="1.2"/>
<line x1="374.95" y1="423.80" x2="374.95" y2="426.80" stroke="#222" stroke-width="1.2"/>
<line x1="564.38" y1="423.80" x2="564.38" y2="426.80" stroke="#222" stroke-width="1.2"/>
<text x="90.10" y="449.40" font-size="19.50" text-anchor="middle" textLength="54.0" lengthAdjust="spacingAndGlyphs">0.985</text>
<text x="279.53" y="449.40" font-size="19.50" text-anchor="middle" textLength="54.0" lengthAdjust="spacingAndGlyphs">0.990</text>
<text x="468.97" y="449.40" font-size="19.50" text-anchor="middle" textLength="54.0" lengthAdjust="spacingAndGlyphs">0.995</text>
<text x="658.40" y="449.40" font-size="19.50" text-anchor="middle" textLength="54.0" lengthAdjust="spacingAndGlyphs">1.000</text>
<text x="173.63" y="479.40" font-size="27.70" textLength="69.64" lengthAdjust="spacingAndGlyphs">initial</text>
<text x="251.62" y="479.40" font-size="27.70" textLength="59.75" lengthAdjust="spacingAndGlyphs">local</text>
<text x="318.25" y="479.40" font-size="27.70" textLength="156.74" lengthAdjust="spacingAndGlyphs">depolarizing</text>
<text x="483.51" y="479.40" font-size="27.70" textLength="67.06" lengthAdjust="spacingAndGlyphs">noise</text>
<text x="558.63" y="479.40" font-size="27.70" textLength="16.49" lengthAdjust="spacingAndGlyphs">q</text>
<text x="341.50" y="516.30" font-size="35.50" textLength="43.00" lengthAdjust="spacingAndGlyphs">(a)</text>
<text transform="translate(37.60,256.10) rotate(-90)" x="-2.20" y="0" font-size="27.70" textLength="91.58" lengthAdjust="spacingAndGlyphs">Fidelity</text>
<line x1="90.80" y1="1001.20" x2="659.10" y2="1001.20" stroke="#a8a8a8" stroke-width="1.25" stroke-dasharray="1.25 2.12"/>
<line x1="90.80" y1="929.62" x2="659.10" y2="929.62" stroke="#a8a8a8" stroke-width="1.25" stroke-dasharray="1.25 2.12"/>
<line x1="90.80" y1="858.04" x2="659.10" y2="858.04" stroke="#a8a8a8" stroke-width="1.25" stroke-dasharray="1.25 2.12"/>
<line x1="90.80" y1="786.46" x2="659.10" y2="786.46" stroke="#a8a8a8" stroke-width="1.25" stroke-dasharray="1.25 2.12"/>
<line x1="90.80" y1="714.88" x2="659.10" y2="714.88" stroke="#a8a8a8" stroke-width="1.25" stroke-dasharray="1.25 2.12"/>
<line x1="90.80" y1="643.30" x2="659.10" y2="643.30" stroke="#a8a8a8" stroke-width="1.25" stroke-dasharray="1.25 2.12"/>
<line x1="185.52" y1="1020.10" x2="185.52" y2="597.00" stroke="#a8a8a8" stroke-width="1.25" stroke-dasharray="1.25 2.12"/>
<line x1="374.95" y1="1020.10" x2="374.95" y2="597.00" stroke="#a8a8a8" stroke-width="1.25" stroke-dasharray="1.25 2.12"/>
<line x1="564.38" y1="1020.10" x2="564.38" y2="597.00" stroke="#a8a8a8" stroke-width="1.25" stroke-dasharray="1.25 2.12"/>
<line x1="280.23" y1="1020.10" x2="280.23" y2="597.00" stroke="#a8a8a8" stroke-width="1.25" stroke-dasharray="1.25 2.12"/>
<line x1="469.67" y1="1020.10" x2="469.67" y2="597.00" stroke="#a8a8a8" stroke-width="1.25" stroke-dasharray="1.25 2.12"/>
<path d="M90.80,1001.20 L283.00,1001.20 L283.00,1001.19 L283.96,1001.08 L284.92,1000.96 L285.87,1000.85 L286.83,1000.73 L287.79,1000.62 L288.75,1000.51 L289.71,1000.40 L290.67,1000.29 L291.64,1000.19 L292.60,1000.08 L293.56,999.97 L294.52,999.87 L295.48,999.77 L296.44,999.66 L297.41,999.56 L298.37,999.46 L299.33,999.36 L300.30,999.26 L301.26,999.16 L302.23,999.07 L303.19,998.97 L304.16,998.87 L305.12,998.78 L306.09,998.68 L307.05,998.59 L308.02,998.50 L308.98,998.40 L309.95,998.31 L310.92,998.22 L311.88,998.13 L312.85,998.04 L313.82,997.95 L314.78,997.86 L315.75,997.78 L316.72,997.69 L317.69,997.60 L318.65,997.52 L319.62,997.43 L320.59,997.35 L321.56,997.26 L322.53,997.18 L323.50,997.09 L324.47,997.01 L325.44,996.93 L326.40,996.84 L327.37,996.76 L328.34,996.68 L329.31,996.60 L330.28,996.52 L331.25,996.44 L332.22,996.35 L333.19,996.27 L334.16,996.19 L335.13,996.11 L336.10,996.03 L337.07,995.95 L338.04,995.88 L339.02,995.80 L339.99,995.72 L340.96,995.64 L341.93,995.56 L342.90,995.48 L343.87,995.40 L344.84,995.32 L345.81,995.24 L346.78,995.17 L347.75,995.09 L348.72,995.01 L349.69,994.93 L350.67,994.85 L351.64,994.77 L352.61,994.69 L353.58,994.62 L354.55,994.54 L355.52,994.46 L356.49,994.38 L357.46,994.30 L358.43,994.22 L359.40,994.14 L360.37,994.06 L361.34,993.98 L362.32,993.90 L363.29,993.82 L364.26,993.73 L365.23,993.65 L366.20,993.57 L367.17,993.49 L368.14,993.41 L369.11,993.32 L370.08,993.24 L371.05,993.16 L372.02,993.07 L372.99,992.99 L373.96,992.90 L374.92,992.82 L375.89,992.73 L376.86,992.64 L377.83,992.56 L378.80,992.47 L379.77,992.38 L380.74,992.29 L381.71,992.21 L382.67,992.12 L383.64,992.03 L384.61,991.94 L385.58,991.85 L386.55,991.76 L387.52,991.67 L388.48,991.57 L389.45,991.48 L390.42,991.39 L391.39,991.30 L392.35,991.20 L393.32,991.11 L394.29,991.02 L395.25,990.92 L396.22,990.83 L397.19,990.73 L398.16,990.64 L399.12,990.54 L400.09,990.45 L401.06,990.35 L402.02,990.25 L402.99,990.15 L403.95,990.06 L404.92,989.96 L405.89,989.86 L406.85,989.76 L407.82,989.66 L408.79,989.56 L409.75,989.46 L410.72,989.36 L411.68,989.26 L412.65,989.16 L413.61,989.06 L414.58,988.96 L415.55,988.86 L416.51,988.76 L417.48,988.65 L418.44,988.55 L419.41,988.45 L420.37,988.34 L421.34,988.24 L422.30,988.14 L423.27,988.03 L424.23,987.93 L425.20,987.82 L426.16,987.72 L427.13,987.61 L428.09,987.51 L429.06,987.40 L430.02,987.29 L430.99,987.19 L431.95,987.08 L432.92,986.97 L433.88,986.87 L434.84,986.76 L435.81,986.65 L436.77,986.54 L437.74,986.43 L438.70,986.32 L439.67,986.21 L440.63,986.11 L441.60,986.00 L442.56,985.89 L443.52,985.78 L444.49,985.67 L445.45,985.55 L446.42,985.44 L447.38,985.33 L448.35,985.22 L449.31,985.11 L450.27,985.00 L451.24,984.89 L452.20,984.77 L453.17,984.66 L454.13,984.55 L455.09,984.44 L456.06,984.32 L457.02,984.21 L457.99,984.10 L458.95,983.98 L459.92,983.87 L460.88,983.75 L461.84,983.64 L462.81,983.53 L463.77,983.41 L464.74,983.30 L465.70,983.18 L466.66,983.07 L467.63,982.95 L468.59,982.84 L469.56,982.72 L470.52,982.60 L471.48,982.49 L472.45,982.37 L473.41,982.26 L474.38,982.14 L475.34,982.02 L476.31,981.91 L477.27,981.79 L478.24,981.67 L479.20,981.55 L480.16,981.44 L481.13,981.32 L482.09,981.20 L483.06,981.08 L484.02,980.97 L484.99,980.85 L485.95,980.73 L486.92,980.61 L487.88,980.49 L488.85,980.37 L489.81,980.26 L490.77,980.14 L491.74,980.02 L492.70,979.90 L493.67,979.78 L494.63,979.66 L495.60,979.54 L496.56,979.42 L497.53,979.30 L498.50,979.18 L499.46,979.06 L500.43,978.94 L501.39,978.82 L502.36,978.70 L503.32,978.58 L504.29,978.46 L505.25,978.34 L506.22,978.22 L507.18,978.10 L508.15,977.98 L509.12,977.86 L510.08,977.74 L511.05,977.62 L512.01,977.50 L512.98,977.38 L513.95,977.26 L514.91,977.14 L515.88,977.02 L516.85,976.90 L517.81,976.78 L518.78,976.66 L519.75,976.54 L520.71,976.41 L521.68,976.29 L522.65,976.17 L523.61,976.05 L524.58,975.93 L525.55,975.80 L526.51,975.68 L527.48,975.56 L528.45,975.43 L529.41,975.31 L530.38,975.19 L531.35,975.06 L532.31,974.93 L533.28,974.81 L534.25,974.68 L535.21,974.55 L536.18,974.42 L537.14,974.30 L538.11,974.17 L539.08,974.03 L540.04,973.90 L541.01,973.77 L541.97,973.64 L542.94,973.50 L543.90,973.37 L544.87,973.23 L545.83,973.10 L546.80,972.96 L547.76,972.82 L548.73,972.68 L549.69,972.54 L550.65,972.40 L551.62,972.26 L552.58,972.11 L553.54,971.97 L554.51,971.82 L555.47,971.67 L556.43,971.52 L557.39,971.37 L558.36,971.22 L559.32,971.07 L560.28,970.91 L561.24,970.76 L562.20,970.60 L563.16,970.44 L564.12,970.28 L565.08,970.12 L566.04,969.95 L567.00,969.79 L567.95,969.62 L568.91,969.45 L569.87,969.28 L570.83,969.11 L571.78,968.93 L572.74,968.76 L573.70,968.58 L574.65,968.40 L575.61,968.22 L576.56,968.04 L577.52,967.85 L578.47,967.66 L579.42,967.48 L580.38,967.28 L581.33,967.09 L582.28,966.90 L583.23,966.70 L584.18,966.50 L585.13,966.30 L586.08,966.09 L587.03,965.89 L587.98,965.68 L588.93,965.47 L589.88,965.25 L590.83,965.04 L591.77,964.82 L592.72,964.60 L593.66,964.38 L594.61,964.15 L595.55,963.92 L596.50,963.69 L597.44,963.46 L598.38,963.23 L599.32,962.99 L600.26,962.75 L601.21,962.50 L602.15,962.26 L603.08,962.01 L604.02,961.76 L604.96,961.50 L605.90,961.24 L606.83,960.98 L607.77,960.72 L608.70,960.45 L609.64,960.19 L610.57,959.91 L611.50,959.64 L612.44,959.36 L613.37,959.08 L614.30,958.79 L615.23,958.51 L616.16,958.22 L617.09,957.92 L618.01,957.63 L618.94,957.33 L619.86,957.02 L620.79,956.71 L621.71,956.40 L622.64,956.09 L623.56,955.77 L624.48,955.45 L625.40,955.13 L626.32,954.80 L627.24,954.47 L628.16,954.14 L629.07,953.80 L629.99,953.45 L630.90,953.10 L631.81,952.75 L632.71,952.39 L633.61,952.02 L634.51,951.64 L635.41,951.26 L636.29,950.87 L637.18,950.47 L638.05,950.07 L638.92,949.65 L639.79,949.22 L640.65,948.78 L641.50,948.34 L642.34,947.88 L643.17,947.41 L644.00,946.92 L644.81,946.43 L645.62,945.92 L646.41,945.40 L647.20,944.86 L647.98,944.31 L648.74,943.75 L649.49,943.17 L650.23,942.57 L650.96,941.96 L651.68,941.33 L652.38,940.68 L653.07,940.02 L653.74,939.33 L654.40,938.63 L655.05,937.91 L655.67,937.17 L656.29,936.41 L656.89,935.64 L657.47,934.83 L658.03,934.01 L658.58,933.17 L659.11,932.30" fill="none" stroke="#aa4499" stroke-width="2.55" stroke-linecap="butt" stroke-linejoin="round" stroke-dasharray="2.40 3.96" clip-path="url(#cb)"/>
<path d="M90.80,1001.20 L501.80,1001.20 L501.80,1001.20 L502.31,1001.00 L502.81,1000.80 L503.32,1000.59 L503.83,1000.39 L504.33,1000.19 L504.84,999.99 L505.35,999.79 L505.85,999.58 L506.36,999.38 L506.87,999.18 L507.37,998.98 L507.88,998.77 L508.39,998.57 L508.89,998.37 L509.40,998.16 L509.91,997.96 L510.42,997.76 L510.92,997.55 L511.43,997.35 L511.94,997.15 L512.45,996.94 L512.96,996.74 L513.46,996.54 L513.97,996.33 L514.48,996.13 L514.99,995.92 L515.50,995.72 L516.00,995.51 L516.51,995.31 L517.02,995.10 L517.53,994.90 L518.04,994.69 L518.54,994.49 L519.05,994.28 L519.56,994.08 L520.07,993.87 L520.58,993.66 L521.09,993.46 L521.59,993.25 L522.10,993.04 L522.61,992.84 L523.12,992.63 L523.63,992.42 L524.13,992.21 L524.64,992.00 L525.15,991.80 L525.66,991.59 L526.17,991.38 L526.67,991.17 L527.18,990.96 L527.69,990.75 L528.20,990.54 L528.70,990.33 L529.21,990.12 L529.72,989.91 L530.23,989.70 L530.73,989.48 L531.24,989.27 L531.75,989.06 L532.25,988.85 L532.76,988.63 L533.27,988.42 L533.77,988.21 L534.28,987.99 L534.79,987.78 L535.29,987.57 L535.80,987.35 L536.31,987.14 L536.81,986.92 L537.32,986.70 L537.82,986.49 L538.33,986.27 L538.84,986.05 L539.34,985.84 L539.85,985.62 L540.35,985.40 L540.86,985.18 L541.36,984.96 L541.86,984.74 L542.37,984.52 L542.87,984.30 L543.38,984.08 L543.88,983.86 L544.39,983.64 L544.89,983.42 L545.39,983.19 L545.89,982.97 L546.40,982.75 L546.90,982.52 L547.40,982.30 L547.91,982.08 L548.41,981.85 L548.91,981.62 L549.41,981.40 L549.91,981.17 L550.41,980.94 L550.91,980.72 L551.42,980.49 L551.92,980.26 L552.42,980.03 L552.92,979.80 L553.42,979.57 L553.92,979.34 L554.41,979.11 L554.91,978.88 L555.41,978.64 L555.91,978.41 L556.41,978.18 L556.91,977.94 L557.40,977.71 L557.90,977.47 L558.40,977.24 L558.90,977.00 L559.39,976.77 L559.89,976.53 L560.38,976.29 L560.88,976.05 L561.37,975.81 L561.87,975.57 L562.36,975.33 L562.86,975.09 L563.35,974.85 L563.85,974.61 L564.34,974.37 L564.83,974.12 L565.32,973.88 L565.82,973.63 L566.31,973.39 L566.80,973.14 L567.29,972.90 L567.78,972.65 L568.27,972.40 L568.76,972.15 L569.25,971.90 L569.74,971.65 L570.23,971.40 L570.72,971.15 L571.21,970.90 L571.70,970.65 L572.18,970.39 L572.67,970.14 L573.16,969.88 L573.64,969.63 L574.13,969.37 L574.62,969.12 L575.10,968.86 L575.59,968.60 L576.07,968.34 L576.55,968.08 L577.04,967.82 L577.52,967.56 L578.00,967.30 L578.48,967.03 L578.97,966.77 L579.45,966.51 L579.93,966.24 L580.41,965.97 L580.89,965.71 L581.37,965.44 L581.85,965.17 L582.32,964.90 L582.80,964.63 L583.28,964.36 L583.76,964.09 L584.23,963.82 L584.71,963.54 L585.18,963.27 L585.66,963.00 L586.13,962.72 L586.61,962.44 L587.08,962.17 L587.55,961.89 L588.03,961.61 L588.50,961.33 L588.97,961.05 L589.44,960.77 L589.91,960.48 L590.38,960.20 L590.85,959.92 L591.32,959.63 L591.79,959.34 L592.26,959.06 L592.72,958.77 L593.19,958.48 L593.65,958.19 L594.12,957.90 L594.59,957.61 L595.05,957.32 L595.51,957.02 L595.98,956.73 L596.44,956.43 L596.90,956.14 L597.36,955.84 L597.82,955.54 L598.28,955.24 L598.74,954.94 L599.20,954.64 L599.66,954.34 L600.12,954.04 L600.57,953.73 L601.03,953.43 L601.49,953.12 L601.94,952.81 L602.40,952.51 L602.85,952.20 L603.30,951.89 L603.76,951.58 L604.21,951.26 L604.66,950.95 L605.11,950.64 L605.56,950.32 L606.01,950.01 L606.46,949.69 L606.91,949.37 L607.35,949.05 L607.80,948.73 L608.25,948.41 L608.69,948.09 L609.14,947.76 L609.58,947.44 L610.02,947.11 L610.47,946.79 L610.91,946.46 L611.35,946.13 L611.79,945.80 L612.23,945.47 L612.67,945.14 L613.11,944.80 L613.55,944.47 L613.98,944.13 L614.42,943.80 L614.85,943.46 L615.29,943.12 L615.72,942.78 L616.16,942.44 L616.59,942.09 L617.02,941.75 L617.45,941.41 L617.88,941.06 L618.31,940.71 L618.73,940.36 L619.16,940.01 L619.59,939.66 L620.01,939.31 L620.43,938.96 L620.86,938.60 L621.28,938.25 L621.70,937.89 L622.12,937.53 L622.53,937.17 L622.95,936.81 L623.36,936.45 L623.78,936.08 L624.19,935.72 L624.60,935.35 L625.01,934.99 L625.42,934.62 L625.83,934.25 L626.23,933.88 L626.64,933.50 L627.04,933.13 L627.44,932.75 L627.84,932.38 L628.24,932.00 L628.63,931.62 L629.03,931.24 L629.42,930.85 L629.81,930.47 L630.20,930.08 L630.59,929.70 L630.98,929.31 L631.36,928.92 L631.74,928.53 L632.12,928.13 L632.50,927.74 L632.88,927.34 L633.25,926.95 L633.63,926.55 L634.00,926.15 L634.37,925.75 L634.74,925.34 L635.10,924.94 L635.46,924.53 L635.82,924.12 L636.18,923.72 L636.54,923.30 L636.89,922.89 L637.25,922.48 L637.60,922.06 L637.95,921.65 L638.29,921.23 L638.63,920.81 L638.98,920.38 L639.31,919.96 L639.65,919.54 L639.99,919.11 L640.32,918.68 L640.65,918.25 L640.97,917.82 L641.30,917.38 L641.62,916.95 L641.94,916.51 L642.25,916.07 L642.57,915.63 L642.88,915.19 L643.19,914.75 L643.49,914.30 L643.80,913.86 L644.10,913.41 L644.40,912.96 L644.69,912.50 L644.98,912.05 L645.27,911.59 L645.56,911.14 L645.84,910.68 L646.12,910.22 L646.40,909.75 L646.68,909.29 L646.95,908.82 L647.22,908.35 L647.48,907.88 L647.75,907.41 L648.01,906.94 L648.26,906.46 L648.52,905.98 L648.77,905.50 L649.01,905.02 L649.26,904.54 L649.50,904.05 L649.73,903.57 L649.97,903.08 L650.20,902.59 L650.43,902.09 L650.65,901.60 L650.87,901.10 L651.09,900.60 L651.30,900.10 L651.51,899.60 L651.72,899.10 L651.92,898.59 L652.12,898.08 L652.32,897.57 L652.51,897.06 L652.70,896.55 L652.89,896.03 L653.07,895.51 L653.25,894.99 L653.43,894.47 L653.61,893.95 L653.78,893.43 L653.95,892.91 L654.11,892.38 L654.27,891.85 L654.43,891.32 L654.59,890.79 L654.74,890.26 L654.89,889.73 L655.04,889.20 L655.19,888.66 L655.33,888.13 L655.47,887.59 L655.60,887.05 L655.74,886.51 L655.87,885.97 L656.00,885.43 L656.13,884.89 L656.25,884.35 L656.37,883.80 L656.49,883.26 L656.61,882.72 L656.72,882.17 L656.83,881.63 L656.94,881.08 L657.05,880.53 L657.15,879.98 L657.26,879.44 L657.36,878.89 L657.46,878.34 L657.55,877.79 L657.65,877.24 L657.74,876.69 L657.83,876.14 L657.92,875.59 L658.01,875.04 L658.09,874.49 L658.17,873.94 L658.25,873.39 L658.33,872.84 L658.41,872.29 L658.49,871.74 L658.56,871.19 L658.63,870.64 L658.70,870.09 L658.77,869.54 L658.84,868.99 L658.90,868.44 L658.97,867.89 L659.03,867.34 L659.09,866.80" fill="none" stroke="#332288" stroke-width="2.55" stroke-linecap="square" stroke-linejoin="round" clip-path="url(#cb)"/>
<path d="M90.80,1001.20 L280.40,1001.20 L280.40,1001.20 L281.53,1000.86 L282.65,1000.52 L283.78,1000.19 L284.91,999.85 L286.04,999.51 L287.16,999.17 L288.29,998.84 L289.42,998.50 L290.54,998.16 L291.67,997.82 L292.80,997.48 L293.92,997.15 L295.05,996.81 L296.18,996.47 L297.30,996.13 L298.43,995.79 L299.56,995.45 L300.68,995.11 L301.81,994.78 L302.93,994.44 L304.06,994.10 L305.19,993.76 L306.31,993.42 L307.44,993.08 L308.56,992.74 L309.69,992.40 L310.81,992.06 L311.94,991.72 L313.06,991.38 L314.19,991.04 L315.31,990.70 L316.44,990.35 L317.56,990.01 L318.68,989.67 L319.81,989.33 L320.93,988.99 L322.06,988.64 L323.18,988.30 L324.30,987.96 L325.43,987.61 L326.55,987.27 L327.67,986.93 L328.79,986.58 L329.92,986.24 L331.04,985.89 L332.16,985.55 L333.28,985.20 L334.41,984.86 L335.53,984.51 L336.65,984.16 L337.77,983.82 L338.89,983.47 L340.01,983.12 L341.13,982.77 L342.25,982.42 L343.37,982.07 L344.49,981.73 L345.61,981.38 L346.73,981.03 L347.85,980.67 L348.97,980.32 L350.09,979.97 L351.21,979.62 L352.33,979.27 L353.45,978.91 L354.57,978.56 L355.69,978.21 L356.80,977.85 L357.92,977.50 L359.04,977.14 L360.16,976.78 L361.27,976.43 L362.39,976.07 L363.51,975.71 L364.62,975.35 L365.74,975.00 L366.86,974.64 L367.97,974.28 L369.09,973.92 L370.20,973.55 L371.32,973.19 L372.43,972.83 L373.55,972.47 L374.66,972.10 L375.78,971.74 L376.89,971.37 L378.00,971.01 L379.12,970.64 L380.23,970.28 L381.34,969.91 L382.46,969.54 L383.57,969.17 L384.68,968.80 L385.79,968.43 L386.90,968.06 L388.02,967.69 L389.13,967.32 L390.24,966.94 L391.35,966.57 L392.46,966.19 L393.57,965.82 L394.68,965.44 L395.79,965.07 L396.90,964.69 L398.00,964.31 L399.11,963.93 L400.22,963.55 L401.33,963.17 L402.44,962.79 L403.54,962.41 L404.65,962.02 L405.76,961.64 L406.86,961.25 L407.97,960.87 L409.08,960.48 L410.18,960.09 L411.29,959.70 L412.39,959.31 L413.50,958.92 L414.60,958.53 L415.70,958.14 L416.81,957.75 L417.91,957.35 L419.01,956.96 L420.12,956.56 L421.22,956.17 L422.32,955.77 L423.42,955.37 L424.52,954.97 L425.62,954.57 L426.72,954.17 L427.82,953.77 L428.92,953.36 L430.02,952.96 L431.12,952.55 L432.22,952.15 L433.32,951.74 L434.42,951.33 L435.51,950.92 L436.61,950.51 L437.71,950.10 L438.81,949.68 L439.90,949.27 L441.00,948.86 L442.09,948.44 L443.19,948.02 L444.28,947.60 L445.38,947.18 L446.47,946.76 L447.56,946.34 L448.66,945.92 L449.75,945.50 L450.84,945.07 L451.93,944.64 L453.03,944.22 L454.12,943.79 L455.21,943.36 L456.30,942.93 L457.39,942.50 L458.48,942.06 L459.57,941.63 L460.66,941.19 L461.74,940.76 L462.83,940.32 L463.92,939.88 L465.01,939.44 L466.09,938.99 L467.18,938.55 L468.27,938.11 L469.35,937.66 L470.44,937.21 L471.52,936.77 L472.60,936.32 L473.69,935.87 L474.77,935.41 L475.85,934.96 L476.94,934.50 L478.02,934.05 L479.10,933.59 L480.18,933.13 L481.26,932.67 L482.34,932.21 L483.42,931.75 L484.50,931.28 L485.58,930.82 L486.66,930.35 L487.74,929.88 L488.81,929.41 L489.89,928.94 L490.97,928.47 L492.04,927.99 L493.12,927.52 L494.19,927.04 L495.27,926.56 L496.34,926.08 L497.41,925.60 L498.49,925.11 L499.56,924.63 L500.63,924.14 L501.70,923.66 L502.78,923.17 L503.85,922.68 L504.92,922.18 L505.99,921.69 L507.05,921.19 L508.12,920.70 L509.19,920.20 L510.26,919.70 L511.33,919.20 L512.39,918.69 L513.46,918.19 L514.52,917.68 L515.59,917.17 L516.65,916.66 L517.71,916.15 L518.77,915.64 L519.84,915.12 L520.90,914.60 L521.95,914.08 L523.01,913.56 L524.07,913.04 L525.13,912.51 L526.18,911.99 L527.24,911.46 L528.29,910.92 L529.34,910.39 L530.39,909.86 L531.44,909.32 L532.49,908.78 L533.54,908.24 L534.58,907.69 L535.63,907.14 L536.67,906.60 L537.71,906.05 L538.76,905.49 L539.79,904.94 L540.83,904.38 L541.87,903.82 L542.90,903.25 L543.94,902.69 L544.97,902.12 L546.00,901.55 L547.03,900.98 L548.06,900.40 L549.08,899.83 L550.11,899.25 L551.13,898.66 L552.15,898.08 L553.17,897.49 L554.19,896.90 L555.20,896.31 L556.22,895.71 L557.23,895.11 L558.24,894.51 L559.25,893.90 L560.25,893.30 L561.26,892.69 L562.26,892.07 L563.26,891.46 L564.26,890.84 L565.25,890.22 L566.25,889.59 L567.24,888.96 L568.23,888.33 L569.21,887.70 L570.20,887.06 L571.18,886.42 L572.16,885.78 L573.14,885.13 L574.12,884.48 L575.09,883.83 L576.06,883.18 L577.03,882.52 L577.99,881.85 L578.96,881.19 L579.92,880.52 L580.88,879.85 L581.83,879.17 L582.79,878.49 L583.74,877.81 L584.69,877.12 L585.63,876.43 L586.57,875.74 L587.51,875.04 L588.45,874.34 L589.39,873.64 L590.32,872.93 L591.25,872.22 L592.17,871.51 L593.09,870.79 L594.01,870.07 L594.93,869.34 L595.85,868.61 L596.76,867.88 L597.66,867.14 L598.57,866.40 L599.47,865.66 L600.37,864.91 L601.26,864.16 L602.16,863.40 L603.05,862.64 L603.93,861.88 L604.81,861.11 L605.69,860.33 L606.57,859.56 L607.44,858.78 L608.31,857.99 L609.18,857.21 L610.04,856.41 L610.90,855.62 L611.75,854.81 L612.60,854.01 L613.45,853.20 L614.30,852.39 L615.14,851.57 L615.97,850.74 L616.81,849.92 L617.64,849.09 L618.46,848.25 L619.29,847.41 L620.10,846.57 L620.92,845.72 L621.73,844.86 L622.53,844.01 L623.33,843.14 L624.12,842.28 L624.91,841.41 L625.70,840.53 L626.48,839.65 L627.25,838.77 L628.02,837.88 L628.78,836.98 L629.54,836.08 L630.29,835.18 L631.03,834.27 L631.77,833.36 L632.50,832.44 L633.22,831.52 L633.94,830.59 L634.65,829.66 L635.35,828.73 L636.05,827.79 L636.74,826.84 L637.42,825.89 L638.09,824.94 L638.76,823.98 L639.42,823.01 L640.07,822.04 L640.71,821.07 L641.34,820.09 L641.96,819.10 L642.58,818.12 L643.19,817.12 L643.78,816.12 L644.37,815.12 L644.95,814.11 L645.52,813.10 L646.08,812.08 L646.63,811.06 L647.17,810.03 L647.70,808.99 L648.22,807.95 L648.73,806.91 L649.23,805.86 L649.72,804.81 L650.19,803.75 L650.66,802.68 L651.12,801.62 L651.56,800.54 L651.99,799.46 L652.41,798.38 L652.82,797.29 L653.22,796.19 L653.61,795.09 L653.98,793.99 L654.34,792.88 L654.69,791.76 L655.03,790.64 L655.36,789.51 L655.67,788.38 L655.97,787.25 L656.26,786.11 L656.53,784.96 L656.79,783.81 L657.04,782.66 L657.28,781.50 L657.50,780.33 L657.71,779.16 L657.90,777.99 L658.08,776.81 L658.25,775.63 L658.41,774.44 L658.55,773.25 L658.67,772.05 L658.79,770.85 L658.88,769.64 L658.97,768.43 L659.04,767.21 L659.09,765.99" fill="none" stroke="#332288" stroke-width="2.55" stroke-linecap="butt" stroke-linejoin="round" stroke-dasharray="7.20 12.00 2.40 12.00" clip-path="url(#cb)"/>
<path d="M90.80,1001.20 L384.20,1001.20 L384.20,1001.21 L385.09,1000.79 L385.97,1000.37 L386.85,999.95 L387.74,999.53 L388.62,999.12 L389.50,998.70 L390.38,998.28 L391.27,997.86 L392.15,997.44 L393.03,997.02 L393.91,996.60 L394.80,996.17 L395.68,995.75 L396.56,995.33 L397.44,994.91 L398.33,994.49 L399.21,994.06 L400.09,993.64 L400.97,993.21 L401.85,992.79 L402.73,992.37 L403.62,991.94 L404.50,991.51 L405.38,991.09 L406.26,990.66 L407.14,990.23 L408.02,989.81 L408.90,989.38 L409.78,988.95 L410.66,988.52 L411.54,988.09 L412.42,987.66 L413.30,987.23 L414.18,986.80 L415.06,986.37 L415.94,985.94 L416.82,985.51 L417.70,985.07 L418.58,984.64 L419.45,984.21 L420.33,983.77 L421.21,983.34 L422.09,982.90 L422.97,982.47 L423.84,982.03 L424.72,981.59 L425.60,981.16 L426.47,980.72 L427.35,980.28 L428.22,979.84 L429.10,979.40 L429.98,978.96 L430.85,978.52 L431.72,978.08 L432.60,977.63 L433.47,977.19 L434.35,976.75 L435.22,976.30 L436.09,975.86 L436.97,975.41 L437.84,974.97 L438.71,974.52 L439.58,974.07 L440.46,973.62 L441.33,973.18 L442.20,972.73 L443.07,972.28 L443.94,971.83 L444.81,971.37 L445.68,970.92 L446.55,970.47 L447.42,970.02 L448.28,969.56 L449.15,969.11 L450.02,968.65 L450.89,968.19 L451.75,967.74 L452.62,967.28 L453.49,966.82 L454.35,966.36 L455.22,965.90 L456.08,965.44 L456.95,964.98 L457.81,964.52 L458.67,964.05 L459.54,963.59 L460.40,963.12 L461.26,962.66 L462.12,962.19 L462.98,961.72 L463.85,961.26 L464.71,960.79 L465.57,960.32 L466.42,959.85 L467.28,959.38 L468.14,958.90 L469.00,958.43 L469.86,957.96 L470.71,957.48 L471.57,957.01 L472.43,956.53 L473.28,956.05 L474.14,955.57 L474.99,955.09 L475.84,954.61 L476.70,954.13 L477.55,953.65 L478.40,953.17 L479.25,952.69 L480.10,952.20 L480.95,951.72 L481.80,951.23 L482.65,950.74 L483.50,950.25 L484.35,949.76 L485.20,949.27 L486.04,948.78 L486.89,948.29 L487.74,947.80 L488.58,947.30 L489.43,946.81 L490.27,946.31 L491.11,945.81 L491.96,945.32 L492.80,944.82 L493.64,944.32 L494.48,943.82 L495.32,943.31 L496.16,942.81 L497.00,942.31 L497.84,941.80 L498.67,941.30 L499.51,940.79 L500.35,940.28 L501.18,939.77 L502.02,939.26 L502.85,938.75 L503.68,938.24 L504.52,937.72 L505.35,937.21 L506.18,936.69 L507.01,936.17 L507.84,935.66 L508.67,935.14 L509.50,934.62 L510.32,934.09 L511.15,933.57 L511.98,933.05 L512.80,932.52 L513.63,932.00 L514.45,931.47 L515.27,930.94 L516.10,930.41 L516.92,929.88 L517.74,929.35 L518.56,928.82 L519.38,928.28 L520.20,927.75 L521.01,927.21 L521.83,926.67 L522.65,926.13 L523.46,925.59 L524.27,925.05 L525.09,924.51 L525.90,923.96 L526.71,923.42 L527.52,922.87 L528.33,922.32 L529.14,921.77 L529.95,921.22 L530.76,920.67 L531.57,920.12 L532.37,919.57 L533.18,919.01 L533.98,918.45 L534.78,917.90 L535.59,917.34 L536.39,916.78 L537.19,916.21 L537.99,915.65 L538.79,915.09 L539.58,914.52 L540.38,913.95 L541.18,913.38 L541.97,912.82 L542.76,912.24 L543.56,911.67 L544.35,911.10 L545.14,910.52 L545.93,909.95 L546.72,909.37 L547.51,908.79 L548.30,908.21 L549.08,907.62 L549.87,907.04 L550.65,906.46 L551.44,905.87 L552.22,905.28 L553.00,904.69 L553.78,904.10 L554.56,903.51 L555.34,902.92 L556.12,902.32 L556.89,901.72 L557.67,901.13 L558.44,900.53 L559.22,899.93 L559.99,899.32 L560.76,898.72 L561.53,898.11 L562.30,897.51 L563.07,896.90 L563.83,896.29 L564.60,895.68 L565.36,895.06 L566.13,894.45 L566.89,893.83 L567.65,893.22 L568.41,892.60 L569.17,891.98 L569.93,891.35 L570.69,890.73 L571.44,890.10 L572.20,889.48 L572.95,888.85 L573.70,888.22 L574.46,887.59 L575.21,886.95 L575.96,886.32 L576.70,885.68 L577.45,885.05 L578.20,884.41 L578.94,883.76 L579.68,883.12 L580.43,882.48 L581.17,881.83 L581.91,881.18 L582.65,880.53 L583.38,879.88 L584.12,879.23 L584.86,878.58 L585.59,877.92 L586.32,877.26 L587.05,876.60 L587.78,875.94 L588.51,875.28 L589.24,874.61 L589.97,873.95 L590.69,873.28 L591.41,872.61 L592.14,871.94 L592.86,871.26 L593.57,870.59 L594.29,869.91 L595.01,869.23 L595.72,868.55 L596.43,867.87 L597.14,867.19 L597.85,866.50 L598.55,865.81 L599.26,865.12 L599.96,864.43 L600.66,863.73 L601.36,863.04 L602.05,862.34 L602.74,861.64 L603.44,860.94 L604.12,860.24 L604.81,859.53 L605.50,858.82 L606.18,858.11 L606.86,857.40 L607.53,856.69 L608.21,855.97 L608.88,855.25 L609.55,854.53 L610.21,853.81 L610.88,853.08 L611.54,852.36 L612.20,851.63 L612.85,850.90 L613.50,850.16 L614.15,849.43 L614.80,848.69 L615.44,847.95 L616.08,847.21 L616.72,846.46 L617.35,845.72 L617.99,844.97 L618.61,844.22 L619.24,843.46 L619.86,842.71 L620.48,841.95 L621.09,841.19 L621.70,840.43 L622.31,839.66 L622.91,838.89 L623.51,838.12 L624.11,837.35 L624.70,836.58 L625.29,835.80 L625.88,835.02 L626.46,834.24 L627.04,833.45 L627.61,832.67 L628.18,831.88 L628.75,831.09 L629.31,830.29 L629.87,829.49 L630.42,828.69 L630.97,827.89 L631.52,827.09 L632.06,826.28 L632.60,825.47 L633.13,824.66 L633.66,823.84 L634.18,823.02 L634.70,822.20 L635.22,821.38 L635.73,820.55 L636.24,819.72 L636.74,818.89 L637.23,818.06 L637.73,817.22 L638.21,816.38 L638.70,815.54 L639.18,814.70 L639.65,813.85 L640.12,813.00 L640.58,812.14 L641.04,811.29 L641.49,810.43 L641.94,809.57 L642.38,808.70 L642.82,807.83 L643.25,806.96 L643.68,806.09 L644.10,805.21 L644.52,804.34 L644.93,803.45 L645.34,802.57 L645.74,801.68 L646.13,800.79 L646.52,799.90 L646.90,799.01 L647.28,798.11 L647.65,797.21 L648.02,796.30 L648.38,795.40 L648.73,794.49 L649.08,793.58 L649.42,792.67 L649.76,791.75 L650.09,790.84 L650.42,789.92 L650.73,788.99 L651.05,788.07 L651.35,787.14 L651.65,786.21 L651.94,785.28 L652.23,784.35 L652.51,783.41 L652.78,782.48 L653.05,781.54 L653.31,780.59 L653.57,779.65 L653.81,778.70 L654.05,777.75 L654.29,776.80 L654.51,775.85 L654.73,774.90 L654.95,773.94 L655.15,772.98 L655.35,772.02 L655.54,771.06 L655.73,770.10 L655.91,769.13 L656.08,768.17 L656.24,767.20 L656.39,766.23 L656.54,765.26 L656.68,764.28 L656.82,763.31 L656.94,762.33 L657.06,761.35 L657.17,760.37 L657.28,759.39 L657.37,758.40 L657.46,757.42 L657.54,756.43 L657.61,755.45 L657.68,754.46 L657.73,753.47 L657.78,752.47 L657.82,751.48 L657.85,750.49 L657.88,749.49 L657.89,748.49 L657.90,747.50" fill="none" stroke="#999933" stroke-width="2.55" stroke-linecap="square" stroke-linejoin="round" clip-path="url(#cb)"/>
<path d="M90.80,1001.20 L353.60,1001.20 L353.60,1001.21 L354.63,1000.69 L355.66,1000.17 L356.69,999.65 L357.71,999.13 L358.74,998.61 L359.77,998.09 L360.79,997.57 L361.82,997.05 L362.84,996.53 L363.87,996.01 L364.89,995.49 L365.92,994.97 L366.94,994.44 L367.96,993.92 L368.99,993.40 L370.01,992.87 L371.03,992.35 L372.05,991.83 L373.08,991.30 L374.10,990.78 L375.12,990.25 L376.14,989.73 L377.16,989.20 L378.18,988.67 L379.20,988.15 L380.22,987.62 L381.24,987.09 L382.25,986.56 L383.27,986.03 L384.29,985.50 L385.31,984.97 L386.32,984.44 L387.34,983.91 L388.36,983.38 L389.37,982.84 L390.39,982.31 L391.40,981.78 L392.42,981.24 L393.43,980.71 L394.44,980.17 L395.46,979.64 L396.47,979.10 L397.48,978.56 L398.49,978.03 L399.50,977.49 L400.51,976.95 L401.52,976.41 L402.53,975.87 L403.54,975.33 L404.55,974.79 L405.56,974.24 L406.57,973.70 L407.58,973.16 L408.58,972.61 L409.59,972.07 L410.60,971.52 L411.60,970.97 L412.61,970.43 L413.61,969.88 L414.62,969.33 L415.62,968.78 L416.62,968.23 L417.63,967.68 L418.63,967.12 L419.63,966.57 L420.63,966.02 L421.63,965.46 L422.63,964.91 L423.63,964.35 L424.63,963.79 L425.63,963.23 L426.63,962.67 L427.62,962.11 L428.62,961.55 L429.62,960.99 L430.61,960.43 L431.61,959.86 L432.60,959.30 L433.60,958.73 L434.59,958.17 L435.59,957.60 L436.58,957.03 L437.57,956.46 L438.56,955.89 L439.55,955.32 L440.54,954.75 L441.53,954.17 L442.52,953.60 L443.51,953.02 L444.50,952.44 L445.49,951.87 L446.48,951.29 L447.46,950.71 L448.45,950.13 L449.43,949.54 L450.42,948.96 L451.40,948.38 L452.39,947.79 L453.37,947.20 L454.35,946.62 L455.33,946.03 L456.31,945.44 L457.29,944.85 L458.27,944.25 L459.25,943.66 L460.23,943.07 L461.21,942.47 L462.19,941.87 L463.16,941.27 L464.14,940.67 L465.11,940.07 L466.09,939.47 L467.06,938.87 L468.04,938.26 L469.01,937.66 L469.98,937.05 L470.95,936.44 L471.92,935.83 L472.90,935.22 L473.86,934.61 L474.83,933.99 L475.80,933.38 L476.77,932.76 L477.74,932.14 L478.70,931.53 L479.67,930.90 L480.63,930.28 L481.60,929.66 L482.56,929.04 L483.52,928.41 L484.49,927.78 L485.45,927.15 L486.41,926.52 L487.37,925.89 L488.33,925.26 L489.29,924.62 L490.24,923.99 L491.20,923.35 L492.16,922.71 L493.11,922.07 L494.07,921.43 L495.02,920.78 L495.97,920.14 L496.93,919.49 L497.88,918.84 L498.83,918.19 L499.78,917.54 L500.73,916.89 L501.68,916.23 L502.63,915.58 L503.58,914.92 L504.52,914.26 L505.47,913.60 L506.41,912.94 L507.36,912.27 L508.30,911.61 L509.24,910.94 L510.18,910.27 L511.12,909.60 L512.06,908.93 L513.00,908.25 L513.94,907.58 L514.87,906.90 L515.81,906.22 L516.74,905.54 L517.67,904.86 L518.60,904.17 L519.53,903.49 L520.46,902.80 L521.39,902.11 L522.32,901.42 L523.24,900.73 L524.17,900.03 L525.09,899.33 L526.01,898.64 L526.93,897.94 L527.85,897.24 L528.77,896.53 L529.68,895.83 L530.60,895.12 L531.51,894.41 L532.42,893.70 L533.33,892.99 L534.24,892.27 L535.15,891.56 L536.05,890.84 L536.96,890.12 L537.86,889.40 L538.76,888.67 L539.66,887.95 L540.56,887.22 L541.45,886.49 L542.35,885.76 L543.24,885.03 L544.13,884.29 L545.02,883.56 L545.91,882.82 L546.80,882.08 L547.68,881.33 L548.56,880.59 L549.44,879.84 L550.32,879.09 L551.20,878.34 L552.07,877.59 L552.95,876.84 L553.82,876.08 L554.69,875.32 L555.56,874.56 L556.42,873.80 L557.28,873.04 L558.15,872.27 L559.01,871.50 L559.86,870.73 L560.72,869.96 L561.57,869.18 L562.42,868.41 L563.27,867.63 L564.12,866.85 L564.96,866.06 L565.80,865.28 L566.64,864.49 L567.48,863.70 L568.32,862.91 L569.15,862.12 L569.98,861.32 L570.81,860.52 L571.64,859.72 L572.46,858.92 L573.28,858.12 L574.10,857.31 L574.92,856.50 L575.73,855.69 L576.55,854.88 L577.36,854.06 L578.16,853.25 L578.97,852.43 L579.77,851.61 L580.57,850.78 L581.37,849.96 L582.16,849.13 L582.95,848.30 L583.74,847.46 L584.53,846.63 L585.31,845.79 L586.09,844.95 L586.87,844.11 L587.65,843.26 L588.42,842.42 L589.19,841.57 L589.96,840.72 L590.72,839.86 L591.49,839.01 L592.24,838.15 L593.00,837.29 L593.75,836.43 L594.50,835.56 L595.25,834.69 L596.00,833.82 L596.74,832.95 L597.48,832.08 L598.21,831.20 L598.94,830.32 L599.67,829.44 L600.40,828.55 L601.12,827.67 L601.84,826.78 L602.56,825.89 L603.28,824.99 L603.99,824.10 L604.70,823.20 L605.40,822.30 L606.10,821.39 L606.80,820.49 L607.49,819.58 L608.19,818.67 L608.87,817.75 L609.56,816.83 L610.24,815.92 L610.92,814.99 L611.59,814.07 L612.27,813.14 L612.93,812.22 L613.60,811.28 L614.26,810.35 L614.92,809.41 L615.57,808.47 L616.22,807.53 L616.87,806.59 L617.51,805.64 L618.15,804.69 L618.79,803.74 L619.42,802.79 L620.05,801.83 L620.68,800.87 L621.30,799.91 L621.91,798.94 L622.53,797.98 L623.14,797.01 L623.74,796.04 L624.34,795.06 L624.94,794.09 L625.53,793.11 L626.12,792.13 L626.71,791.14 L627.29,790.16 L627.86,789.17 L628.44,788.18 L629.00,787.18 L629.57,786.19 L630.13,785.19 L630.68,784.19 L631.23,783.19 L631.78,782.18 L632.32,781.18 L632.85,780.17 L633.38,779.15 L633.91,778.14 L634.43,777.12 L634.95,776.11 L635.47,775.09 L635.97,774.06 L636.48,773.04 L636.98,772.01 L637.47,770.98 L637.96,769.95 L638.44,768.91 L638.92,767.88 L639.39,766.84 L639.86,765.80 L640.33,764.75 L640.79,763.71 L641.24,762.66 L641.69,761.61 L642.13,760.56 L642.57,759.51 L643.00,758.45 L643.43,757.39 L643.85,756.33 L644.26,755.27 L644.67,754.21 L645.08,753.14 L645.48,752.07 L645.87,751.00 L646.26,749.93 L646.64,748.85 L647.02,747.78 L647.39,746.70 L647.76,745.62 L648.12,744.53 L648.47,743.45 L648.82,742.36 L649.16,741.27 L649.50,740.18 L649.83,739.09 L650.15,737.99 L650.47,736.90 L650.78,735.80 L651.09,734.70 L651.39,733.60 L651.68,732.49 L651.97,731.38 L652.25,730.28 L652.52,729.17 L652.79,728.05 L653.05,726.94 L653.31,725.82 L653.56,724.71 L653.80,723.59 L654.04,722.46 L654.26,721.34 L654.49,720.22 L654.70,719.09 L654.91,717.96 L655.12,716.83 L655.31,715.70 L655.50,714.56 L655.68,713.43 L655.86,712.29 L656.03,711.15 L656.19,710.01 L656.35,708.86 L656.49,707.72 L656.63,706.57 L656.77,705.42 L656.90,704.27 L657.02,703.12 L657.13,701.97 L657.23,700.81 L657.33,699.65 L657.42,698.50 L657.50,697.33 L657.58,696.17 L657.65,695.01 L657.71,693.84 L657.76,692.68 L657.81,691.51 L657.85,690.34 L657.88,689.17 L657.90,687.99" fill="none" stroke="#67acd3" stroke-width="2.55" stroke-linecap="butt" stroke-linejoin="round" stroke-dasharray="8.88 3.84" clip-path="url(#cb)"/>
<path d="M90.80,1001.20 L311.60,1001.20 L311.60,1001.21 L312.80,1000.56 L313.99,999.92 L315.18,999.28 L316.38,998.63 L317.57,997.99 L318.76,997.34 L319.96,996.70 L321.15,996.05 L322.34,995.41 L323.54,994.76 L324.73,994.12 L325.92,993.47 L327.12,992.82 L328.31,992.18 L329.50,991.53 L330.70,990.88 L331.89,990.24 L333.08,989.59 L334.28,988.94 L335.47,988.29 L336.66,987.64 L337.86,986.99 L339.05,986.34 L340.24,985.69 L341.43,985.04 L342.63,984.39 L343.82,983.74 L345.01,983.08 L346.20,982.43 L347.39,981.78 L348.58,981.12 L349.77,980.47 L350.96,979.81 L352.15,979.15 L353.34,978.50 L354.53,977.84 L355.72,977.18 L356.91,976.52 L358.10,975.86 L359.29,975.20 L360.47,974.53 L361.66,973.87 L362.85,973.21 L364.03,972.54 L365.22,971.88 L366.40,971.21 L367.59,970.54 L368.77,969.87 L369.96,969.20 L371.14,968.53 L372.32,967.86 L373.50,967.19 L374.68,966.51 L375.86,965.84 L377.04,965.16 L378.22,964.49 L379.40,963.81 L380.58,963.13 L381.75,962.45 L382.93,961.76 L384.11,961.08 L385.28,960.40 L386.45,959.71 L387.63,959.02 L388.80,958.34 L389.97,957.65 L391.14,956.95 L392.31,956.26 L393.48,955.57 L394.65,954.87 L395.82,954.18 L396.98,953.48 L398.15,952.78 L399.31,952.08 L400.48,951.37 L401.64,950.67 L402.80,949.96 L403.96,949.26 L405.12,948.55 L406.28,947.84 L407.44,947.13 L408.59,946.41 L409.75,945.70 L410.90,944.98 L412.05,944.26 L413.21,943.54 L414.36,942.82 L415.51,942.09 L416.65,941.37 L417.80,940.64 L418.95,939.91 L420.09,939.18 L421.24,938.45 L422.38,937.71 L423.52,936.97 L424.66,936.23 L425.80,935.49 L426.94,934.75 L428.07,934.01 L429.21,933.26 L430.34,932.51 L431.47,931.76 L432.60,931.01 L433.73,930.25 L434.86,929.49 L435.99,928.73 L437.11,927.97 L438.23,927.21 L439.36,926.44 L440.48,925.67 L441.59,924.90 L442.71,924.13 L443.83,923.36 L444.94,922.58 L446.06,921.80 L447.17,921.02 L448.28,920.24 L449.38,919.45 L450.49,918.66 L451.60,917.87 L452.70,917.08 L453.80,916.28 L454.90,915.49 L456.00,914.69 L457.10,913.89 L458.20,913.09 L459.29,912.28 L460.38,911.47 L461.48,910.67 L462.57,909.85 L463.66,909.04 L464.74,908.23 L465.83,907.41 L466.91,906.59 L468.00,905.77 L469.08,904.95 L470.16,904.12 L471.24,903.29 L472.32,902.46 L473.39,901.63 L474.47,900.80 L475.54,899.97 L476.61,899.13 L477.68,898.29 L478.75,897.45 L479.82,896.61 L480.88,895.76 L481.95,894.92 L483.01,894.07 L484.07,893.22 L485.13,892.37 L486.19,891.52 L487.25,890.66 L488.31,889.81 L489.36,888.95 L490.41,888.09 L491.47,887.23 L492.52,886.36 L493.57,885.50 L494.61,884.63 L495.66,883.76 L496.71,882.89 L497.75,882.02 L498.79,881.15 L499.83,880.27 L500.87,879.40 L501.91,878.52 L502.95,877.64 L503.98,876.76 L505.02,875.88 L506.05,874.99 L507.08,874.10 L508.12,873.22 L509.14,872.33 L510.17,871.44 L511.20,870.55 L512.22,869.65 L513.25,868.76 L514.27,867.86 L515.29,866.96 L516.31,866.06 L517.33,865.16 L518.35,864.26 L519.37,863.36 L520.38,862.45 L521.39,861.55 L522.41,860.64 L523.42,859.73 L524.43,858.82 L525.44,857.91 L526.44,857.00 L527.45,856.08 L528.45,855.17 L529.46,854.25 L530.46,853.33 L531.46,852.41 L532.46,851.49 L533.46,850.57 L534.45,849.64 L535.45,848.72 L536.44,847.79 L537.43,846.86 L538.42,845.93 L539.41,845.00 L540.40,844.07 L541.38,843.13 L542.36,842.19 L543.34,841.25 L544.32,840.31 L545.30,839.37 L546.28,838.42 L547.25,837.48 L548.22,836.53 L549.19,835.58 L550.16,834.62 L551.12,833.67 L552.08,832.71 L553.04,831.75 L554.00,830.79 L554.96,829.83 L555.91,828.86 L556.86,827.89 L557.81,826.92 L558.76,825.95 L559.70,824.97 L560.64,824.00 L561.58,823.02 L562.52,822.04 L563.45,821.05 L564.39,820.06 L565.31,819.08 L566.24,818.08 L567.16,817.09 L568.09,816.09 L569.00,815.09 L569.92,814.09 L570.83,813.09 L571.74,812.08 L572.65,811.07 L573.55,810.05 L574.45,809.04 L575.35,808.02 L576.25,807.00 L577.14,805.97 L578.03,804.95 L578.91,803.92 L579.79,802.88 L580.67,801.85 L581.55,800.81 L582.42,799.77 L583.29,798.72 L584.16,797.67 L585.02,796.62 L585.88,795.57 L586.73,794.51 L587.59,793.45 L588.43,792.39 L589.28,791.32 L590.12,790.25 L590.96,789.18 L591.79,788.10 L592.63,787.03 L593.45,785.95 L594.28,784.86 L595.10,783.77 L595.91,782.69 L596.72,781.59 L597.53,780.50 L598.34,779.40 L599.14,778.30 L599.93,777.19 L600.73,776.09 L601.52,774.98 L602.30,773.86 L603.08,772.75 L603.86,771.63 L604.63,770.51 L605.40,769.39 L606.16,768.26 L606.92,767.13 L607.68,766.00 L608.43,764.86 L609.18,763.72 L609.92,762.58 L610.66,761.44 L611.40,760.30 L612.13,759.15 L612.85,758.00 L613.57,756.84 L614.29,755.69 L615.00,754.53 L615.71,753.36 L616.41,752.20 L617.11,751.03 L617.80,749.86 L618.49,748.69 L619.18,747.51 L619.86,746.34 L620.53,745.16 L621.20,743.97 L621.87,742.79 L622.53,741.60 L623.18,740.41 L623.83,739.22 L624.48,738.02 L625.12,736.82 L625.76,735.62 L626.39,734.42 L627.01,733.21 L627.63,732.01 L628.25,730.79 L628.86,729.58 L629.46,728.37 L630.06,727.15 L630.66,725.93 L631.24,724.70 L631.83,723.48 L632.41,722.25 L632.98,721.02 L633.55,719.79 L634.11,718.55 L634.67,717.31 L635.22,716.07 L635.76,714.83 L636.30,713.59 L636.84,712.34 L637.37,711.09 L637.89,709.84 L638.41,708.59 L638.92,707.33 L639.43,706.07 L639.93,704.81 L640.42,703.55 L640.91,702.28 L641.39,701.01 L641.87,699.75 L642.34,698.47 L642.81,697.20 L643.27,695.92 L643.72,694.64 L644.17,693.36 L644.61,692.08 L645.04,690.79 L645.47,689.51 L645.89,688.22 L646.31,686.93 L646.72,685.63 L647.12,684.34 L647.52,683.04 L647.91,681.74 L648.29,680.44 L648.67,679.14 L649.04,677.83 L649.40,676.52 L649.76,675.21 L650.10,673.90 L650.45,672.59 L650.78,671.28 L651.11,669.96 L651.43,668.64 L651.75,667.32 L652.05,666.00 L652.35,664.68 L652.65,663.35 L652.93,662.03 L653.21,660.70 L653.48,659.37 L653.74,658.04 L654.00,656.70 L654.24,655.37 L654.48,654.03 L654.72,652.70 L654.94,651.36 L655.16,650.02 L655.37,648.67 L655.57,647.33 L655.76,645.99 L655.95,644.64 L656.12,643.29 L656.29,641.94 L656.45,640.59 L656.61,639.24 L656.75,637.89 L656.89,636.54 L657.01,635.18 L657.13,633.83 L657.25,632.47 L657.35,631.11 L657.44,629.75 L657.53,628.39 L657.60,627.03 L657.67,625.67 L657.73,624.30 L657.78,622.94 L657.82,621.57 L657.85,620.20 L657.88,618.84 L657.89,617.47 L657.90,616.10" fill="none" stroke="#aa4499" stroke-width="2.55" stroke-linecap="butt" stroke-linejoin="round" stroke-dasharray="15.36 3.84 2.40 3.84" clip-path="url(#cb)"/>
<rect x="100.60" y="606.50" width="211.30" height="259.10" rx="3.2" fill="#fff" fill-opacity="0.8" stroke="#d6d6d6" stroke-width="1.3"/>
<line x1="107.5" y1="622.00" x2="146.5" y2="622.00" stroke="#aa4499" stroke-width="2.55" stroke-linecap="butt" stroke-dasharray="2.40 3.96"/>
<line x1="107.5" y1="662.80" x2="146.5" y2="662.80" stroke="#332288" stroke-width="2.55" stroke-linecap="square"/>
<line x1="107.5" y1="699.50" x2="146.5" y2="699.50" stroke="#332288" stroke-width="2.55" stroke-linecap="butt" stroke-dasharray="7.20 12.00 2.40 12.00"/>
<line x1="107.5" y1="740.30" x2="146.5" y2="740.30" stroke="#999933" stroke-width="2.55" stroke-linecap="square"/>
<line x1="107.5" y1="789.80" x2="146.5" y2="789.80" stroke="#67acd3" stroke-width="2.55" stroke-linecap="butt" stroke-dasharray="8.88 3.84"/>
<line x1="107.5" y1="838.70" x2="146.5" y2="838.70" stroke="#aa4499" stroke-width="2.55" stroke-linecap="butt" stroke-dasharray="15.36 3.84 2.40 3.84"/>
<text x="162.0" y="628.70" font-size="19.50" textLength="133.30" lengthAdjust="spacingAndGlyphs">bipartite (B,C)</text>
<text x="162.0" y="656.20" font-size="19.50" textLength="113.30" lengthAdjust="spacingAndGlyphs">windmill (A)</text>
<text x="162.0" y="678.30" font-size="19.50" textLength="113.90" lengthAdjust="spacingAndGlyphs">blocksize=2</text>
<text x="162.0" y="706.00" font-size="19.50" textLength="141.00" lengthAdjust="spacingAndGlyphs">shifted grid (A)</text>
<text x="162.0" y="734.10" font-size="19.50" textLength="141.00" lengthAdjust="spacingAndGlyphs">shifted grid (A)</text>
<text x="162.0" y="755.40" font-size="19.50" textLength="113.90" lengthAdjust="spacingAndGlyphs">blocksize=2</text>
<text x="162.0" y="783.20" font-size="19.50" textLength="141.00" lengthAdjust="spacingAndGlyphs">shifted grid (A)</text>
<text x="162.0" y="804.70" font-size="19.50" textLength="113.90" lengthAdjust="spacingAndGlyphs">blocksize=4</text>
<text x="162.0" y="832.80" font-size="19.50" textLength="141.00" lengthAdjust="spacingAndGlyphs">shifted grid (A)</text>
<text x="162.0" y="854.50" font-size="19.50" textLength="113.90" lengthAdjust="spacingAndGlyphs">blocksize=8</text>
<rect x="90.80" y="597.00" width="568.30" height="423.10" fill="none" stroke="#222" stroke-width="1.5"/>
<line x1="85.60" y1="1001.20" x2="90.80" y2="1001.20" stroke="#222" stroke-width="1.5"/>
<text x="79.30" y="1008.10" font-size="19.50" text-anchor="end" textLength="12.10" lengthAdjust="spacingAndGlyphs">0</text>
<line x1="85.60" y1="929.62" x2="90.80" y2="929.62" stroke="#222" stroke-width="1.5"/>
<text x="79.30" y="936.52" font-size="19.50" text-anchor="end" textLength="36.30" lengthAdjust="spacingAndGlyphs">200</text>
<line x1="85.60" y1="858.04" x2="90.80" y2="858.04" stroke="#222" stroke-width="1.5"/>
<text x="79.30" y="864.94" font-size="19.50" text-anchor="end" textLength="36.30" lengthAdjust="spacingAndGlyphs">400</text>
<line x1="85.60" y1="786.46" x2="90.80" y2="786.46" stroke="#222" stroke-width="1.5"/>
<text x="79.30" y="793.36" font-size="19.50" text-anchor="end" textLength="36.30" lengthAdjust="spacingAndGlyphs">600</text>
<line x1="85.60" y1="714.88" x2="90.80" y2="714.88" stroke="#222" stroke-width="1.5"/>
<text x="79.30" y="721.78" font-size="19.50" text-anchor="end" textLength="36.30" lengthAdjust="spacingAndGlyphs">800</text>
<line x1="85.60" y1="643.30" x2="90.80" y2="643.30" stroke="#222" stroke-width="1.5"/>
<text x="79.30" y="650.20" font-size="19.50" text-anchor="end" textLength="48.40" lengthAdjust="spacingAndGlyphs">1000</text>
<line x1="90.80" y1="1020.10" x2="90.80" y2="1025.30" stroke="#222" stroke-width="1.5"/>
<line x1="280.23" y1="1020.10" x2="280.23" y2="1025.30" stroke="#222" stroke-width="1.5"/>
<line x1="469.67" y1="1020.10" x2="469.67" y2="1025.30" stroke="#222" stroke-width="1.5"/>
<line x1="659.10" y1="1020.10" x2="659.10" y2="1025.30" stroke="#222" stroke-width="1.5"/>
<line x1="185.52" y1="1020.10" x2="185.52" y2="1023.10" stroke="#222" stroke-width="1.2"/>
<line x1="374.95" y1="1020.10" x2="374.95" y2="1023.10" stroke="#222" stroke-width="1.2"/>
<line x1="564.38" y1="1020.10" x2="564.38" y2="1023.10" stroke="#222" stroke-width="1.2"/>
<text x="90.10" y="1045.80" font-size="19.50" text-anchor="middle" textLength="54.0" lengthAdjust="spacingAndGlyphs">0.985</text>
<text x="279.53" y="1045.80" font-size="19.50" text-anchor="middle" textLength="54.0" lengthAdjust="spacingAndGlyphs">0.990</text>
<text x="468.97" y="1045.80" font-size="19.50" text-anchor="middle" textLength="54.0" lengthAdjust="spacingAndGlyphs">0.995</text>
<text x="658.40" y="1045.80" font-size="19.50" text-anchor="middle" textLength="54.0" lengthAdjust="spacingAndGlyphs">1.000</text>
<text x="173.63" y="1075.80" font-size="27.70" textLength="69.64" lengthAdjust="spacingAndGlyphs">initial</text>
<text x="251.62" y="1075.80" font-size="27.70" textLength="59.75" lengthAdjust="spacingAndGlyphs">local</text>
<text x="318.25" y="1075.80" font-size="27.70" textLength="156.74" lengthAdjust="spacingAndGlyphs">depolarizing</text>
<text x="483.51" y="1075.80" font-size="27.70" textLength="67.06" lengthAdjust="spacingAndGlyphs">noise</text>
<text x="558.63" y="1075.80" font-size="27.70" textLength="16.49" lengthAdjust="spacingAndGlyphs">q</text>
<text x="341.50" y="1112.70" font-size="35.50" textLength="43.00" lengthAdjust="spacingAndGlyphs">(b)</text>
<text transform="translate(19.30,1036.80) rotate(-90)" x="-1.89" y="0" font-size="27.70" textLength="115.69" lengthAdjust="spacingAndGlyphs">maximal</text>
<text transform="translate(19.30,917.70) rotate(-90)" x="-1.74" y="0" font-size="27.70" textLength="97.54" lengthAdjust="spacingAndGlyphs">number</text>
<text transform="translate(19.30,813.80) rotate(-90)" x="-1.34" y="0" font-size="27.70" textLength="30.11" lengthAdjust="spacingAndGlyphs">of</text>
<text transform="translate(19.30,779.20) rotate(-90)" x="-1.09" y="0" font-size="27.70" textLength="83.94" lengthAdjust="spacingAndGlyphs">output</text>
<text transform="translate(19.30,688.90) rotate(-90)" x="-0.64" y="0" font-size="27.70" textLength="78.12" lengthAdjust="spacingAndGlyphs">states</text>
<text transform="translate(19.30,601.70) rotate(-90)" x="-1.78" y="0" font-size="27.70" textLength="24.55" lengthAdjust="spacingAndGlyphs">m</text>
</svg>
</body></html>
